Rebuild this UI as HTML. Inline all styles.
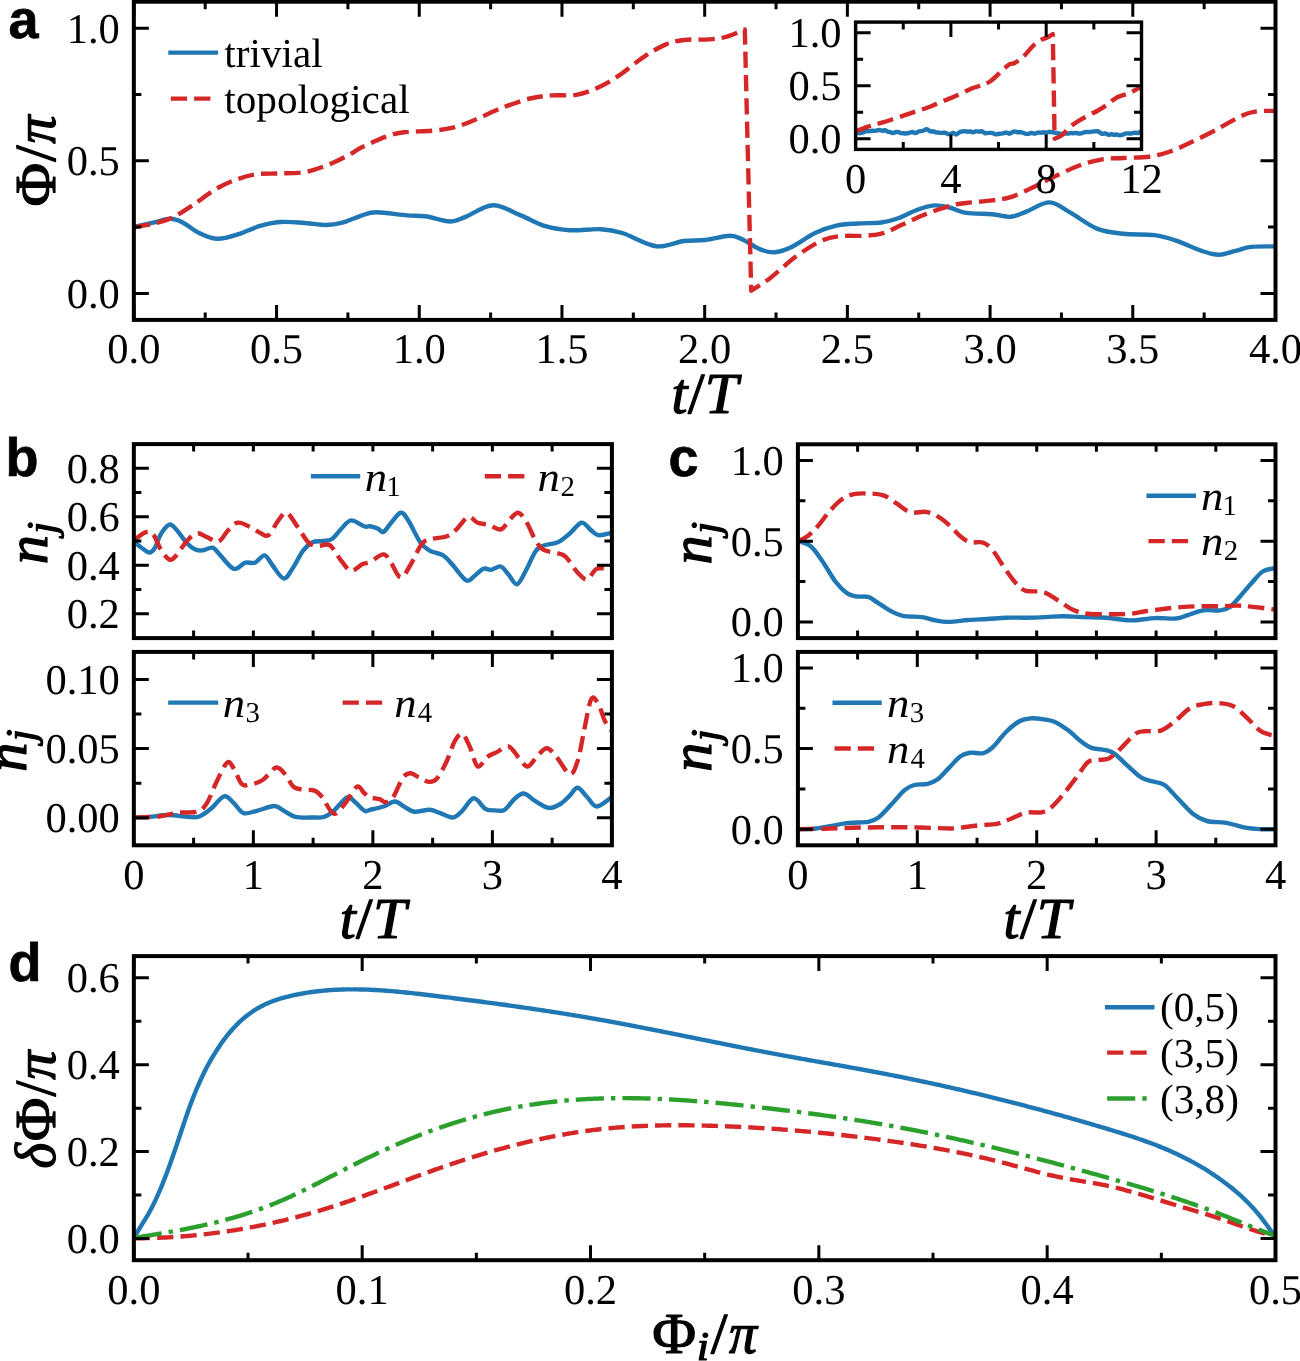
<!DOCTYPE html>
<html><head><meta charset="utf-8"><title>Figure</title>
<style>html,body{margin:0;padding:0;background:#fff;}body{width:1300px;height:1361px;overflow:hidden;font-family:"Liberation Serif",serif;}svg{display:block;will-change:transform;}</style>
</head><body>
<svg width="1300" height="1361" viewBox="0 0 1300 1361" font-family="Liberation Serif, serif" text-rendering="geometricPrecision"><defs><clipPath id="c1"><rect x="133.85" y="1.7" width="1141.65" height="318.2"/></clipPath><clipPath id="c2"><rect x="855.6" y="22.1" width="285.9" height="127.3"/></clipPath><clipPath id="c3"><rect x="133.85" y="444.1" width="478.05" height="194"/></clipPath><clipPath id="c4"><rect x="133.85" y="651.9" width="478.05" height="193.4"/></clipPath><clipPath id="c5"><rect x="797.9" y="444.3" width="477.6" height="193.8"/></clipPath><clipPath id="c6"><rect x="797.9" y="651.9" width="477.6" height="193.4"/></clipPath><clipPath id="c7"><rect x="133.85" y="956.1" width="1141.65" height="304.1"/></clipPath></defs><rect width="1300" height="1361" fill="#fff"/><path d="M133.85,226.8 C137.04,226.12 146.91,224.03 153,222.7 C159.09,221.37 165.4,218.8 170.4,218.8 C175.4,218.8 178.2,220.33 183,222.7 C187.8,225.07 193.42,230.32 199.2,233 C204.98,235.68 211.15,238.6 217.7,238.8 C224.25,239 231.58,236.3 238.5,234.2 C245.42,232.1 252.28,228.23 259.2,226.2 C266.12,224.17 272.7,222.58 280,222 C287.3,221.42 295.3,222.2 303,222.7 C310.7,223.2 319.65,225 326.2,225 C332.75,225 336.53,224.23 342.3,222.7 C348.07,221.17 355.15,217.53 360.8,215.8 C366.45,214.07 368.52,212.37 376.2,212.3 C383.88,212.23 398.7,214.73 406.9,215.4 C415.1,216.07 418.22,215.28 425.4,216.3 C432.58,217.32 443.33,221.4 450,221.5 C456.67,221.6 458.23,219.62 465.4,216.9 C472.57,214.18 483.77,205.45 493,205.2 C502.23,204.95 512.07,211.9 520.8,215.4 C529.53,218.9 537.2,223.73 545.4,226.2 C553.6,228.67 560.77,229.7 570,230.2 C579.23,230.7 592.08,228.73 600.8,229.2 C609.52,229.67 613.07,230.17 622.3,233 C631.53,235.83 645.95,244.87 656.2,246.2 C666.45,247.53 675.6,242.03 683.8,241 C692,239.97 697.73,240.88 705.4,240 C713.07,239.12 723.6,235.78 729.8,235.7 C736,235.62 737.62,237.27 742.6,239.5 C747.58,241.73 754.37,246.97 759.7,249.1 C765.03,251.23 769.28,252.65 774.6,252.3 C779.92,251.95 784.85,250.2 791.6,247 C798.35,243.8 807.63,236.65 815.1,233.1 C822.57,229.55 829.3,227.3 836.4,225.7 C843.5,224.1 850.23,224.03 857.7,223.5 C865.17,222.97 874.45,223.38 881.2,222.5 C887.95,221.62 892.17,220.33 898.2,218.2 C904.23,216.07 911.37,211.83 917.4,209.7 C923.43,207.57 929.07,205.77 934.4,205.4 C939.73,205.03 944.1,206.25 949.4,207.5 C954.7,208.75 959.05,211.78 966.2,212.9 C973.35,214.02 984.9,213.55 992.3,214.2 C999.7,214.85 1004.93,217.23 1010.6,216.8 C1016.27,216.37 1019.77,214 1026.3,211.6 C1032.83,209.2 1042.38,202.18 1049.8,202.4 C1057.22,202.62 1062.95,208.53 1070.8,212.9 C1078.65,217.27 1088.2,225.12 1096.9,228.6 C1105.6,232.08 1113.42,232.72 1123,233.8 C1132.58,234.88 1145.67,234 1154.4,235.1 C1163.13,236.2 1167.55,237.78 1175.4,240.4 C1183.25,243.02 1194.32,248.42 1201.5,250.8 C1208.68,253.18 1212.83,254.7 1218.5,254.7 C1224.17,254.7 1230.05,252.1 1235.5,250.8 C1240.95,249.5 1244.53,247.63 1251.2,246.9 C1257.87,246.17 1271.45,246.48 1275.5,246.4" fill="none" stroke="#1f77b4" stroke-width="4.4" stroke-linejoin="round" stroke-linecap="butt" clip-path="url(#c1)"/>
<path d="M133.85,227.3 C137.04,226.72 146.72,225.35 153,223.8 C159.28,222.25 164.95,221.07 171.5,218 C178.05,214.93 184.6,210.4 192.3,205.4 C200,200.4 210,192.43 217.7,188 C225.4,183.57 231.95,181.1 238.5,178.8 C245.05,176.5 250.47,175.08 257,174.2 C263.53,173.32 270.4,173.77 277.7,173.5 C285,173.23 294.65,173.25 300.8,172.6 C306.95,171.95 309.23,171.25 314.6,169.6 C319.97,167.95 326.85,165.38 333,162.7 C339.15,160.02 346.87,156 351.5,153.5 C356.13,151 355.15,150.47 360.8,147.7 C366.45,144.93 378.23,139.47 385.4,136.9 C392.57,134.33 396.12,133.32 403.8,132.3 C411.48,131.28 423.3,131.57 431.5,130.8 C439.7,130.03 445.82,129.5 453,127.7 C460.18,125.9 466.38,123.33 474.6,120 C482.82,116.67 493.07,111.28 502.3,107.7 C511.53,104.12 521.8,100.55 530,98.5 C538.2,96.45 543.8,96.02 551.5,95.4 C559.2,94.78 568.5,96.08 576.2,94.8 C583.9,93.52 590.53,90.93 597.7,87.7 C604.87,84.47 611.52,80.53 619.2,75.4 C626.88,70.27 636.1,62.03 643.8,56.9 C651.5,51.77 658.73,47.42 665.4,44.6 C672.07,41.78 676.62,40.87 683.8,40 C690.98,39.13 701.53,39.9 708.5,39.4 C715.47,38.9 719.55,38.63 725.6,37 C731.65,35.37 741.6,30.83 744.8,29.6 L751.2,290.7 C754.38,288.57 762.85,283.58 770.3,277.9 C777.75,272.22 787.72,262.63 795.9,256.6 C804.08,250.57 812.3,245.08 819.4,241.7 C826.5,238.32 830.7,237.3 838.5,236.3 C846.3,235.3 858.73,236.23 866.2,235.7 C873.67,235.17 877.25,234.95 883.3,233.1 C889.35,231.25 895.4,227.78 902.5,224.6 C909.6,221.42 917.73,217.2 925.9,214 C934.07,210.8 944.78,207.23 951.5,205.4 C958.22,203.57 959.4,203.83 966.2,203 C973,202.17 984.9,201.37 992.3,200.4 C999.7,199.43 1004.07,199.25 1010.6,197.2 C1017.13,195.15 1024.53,191.37 1031.5,188.1 C1038.47,184.83 1044.55,181.32 1052.4,177.6 C1060.25,173.88 1070.32,168.85 1078.6,165.8 C1086.88,162.75 1094.7,160.6 1102.1,159.3 C1109.5,158 1115.15,158.43 1123,158 C1130.85,157.57 1141.35,157.78 1149.2,156.7 C1157.05,155.62 1163.13,153.9 1170.1,151.5 C1177.07,149.1 1183.15,146.02 1191,142.3 C1198.85,138.58 1208.92,133.55 1217.2,129.2 C1225.48,124.85 1234.17,119.17 1240.7,116.2 C1247.23,113.23 1250.6,112.28 1256.4,111.4 C1262.2,110.52 1272.32,110.98 1275.5,110.9" fill="none" stroke="#d62728" stroke-width="4.4" stroke-linejoin="round" stroke-dasharray="16.28 7.04" stroke-linecap="butt" clip-path="url(#c1)"/>
<path d="M133.85,319.9v-15 M133.85,1.7v15 M276.56,319.9v-15 M276.56,1.7v15 M419.26,319.9v-15 M419.26,1.7v15 M561.97,319.9v-15 M561.97,1.7v15 M704.68,319.9v-15 M704.68,1.7v15 M847.38,319.9v-15 M847.38,1.7v15 M990.09,319.9v-15 M990.09,1.7v15 M1132.79,319.9v-15 M1132.79,1.7v15 M1275.5,319.9v-15 M1275.5,1.7v15 M205.2,319.9v-7.5 M205.2,1.7v7.5 M347.91,319.9v-7.5 M347.91,1.7v7.5 M490.62,319.9v-7.5 M490.62,1.7v7.5 M633.32,319.9v-7.5 M633.32,1.7v7.5 M776.03,319.9v-7.5 M776.03,1.7v7.5 M918.73,319.9v-7.5 M918.73,1.7v7.5 M1061.44,319.9v-7.5 M1061.44,1.7v7.5 M1204.15,319.9v-7.5 M1204.15,1.7v7.5 M133.85,293.38h15 M1275.5,293.38h-15 M133.85,160.8h15 M1275.5,160.8h-15 M133.85,28.22h15 M1275.5,28.22h-15 M133.85,227.09h7.5 M1275.5,227.09h-7.5 M133.85,94.51h7.5 M1275.5,94.51h-7.5" stroke="#000" stroke-width="3" fill="none"/>
<text x="133.85" y="363.4" font-size="42.5" text-anchor="middle">0.0</text>
<text x="276.56" y="363.4" font-size="42.5" text-anchor="middle">0.5</text>
<text x="419.26" y="363.4" font-size="42.5" text-anchor="middle">1.0</text>
<text x="561.97" y="363.4" font-size="42.5" text-anchor="middle">1.5</text>
<text x="704.68" y="363.4" font-size="42.5" text-anchor="middle">2.0</text>
<text x="847.38" y="363.4" font-size="42.5" text-anchor="middle">2.5</text>
<text x="990.09" y="363.4" font-size="42.5" text-anchor="middle">3.0</text>
<text x="1132.79" y="363.4" font-size="42.5" text-anchor="middle">3.5</text>
<text x="1275.5" y="363.4" font-size="42.5" text-anchor="middle">4.0</text>
<text x="119.75" y="307.78" font-size="42.5" text-anchor="end">0.0</text>
<text x="119.75" y="175.2" font-size="42.5" text-anchor="end">0.5</text>
<text x="119.75" y="42.62" font-size="42.5" text-anchor="end">1.0</text>
<text transform="translate(671.45,412.5) scale(0.9914,1)" font-size="58" font-style="italic" stroke="#000" stroke-width="1.2" stroke-linejoin="round">t</text>
<text transform="translate(687.88,412.5) scale(1.0239,1)" font-size="58" stroke="#000" stroke-width="1.2" stroke-linejoin="round">/</text>
<text transform="translate(704.71,412.5) scale(1.0317,1)" font-size="58" font-style="italic" stroke="#000" stroke-width="1.2" stroke-linejoin="round">T</text>
<g transform="translate(54.7,205.3) rotate(-90)"><text transform="translate(-1.21,0) scale(1.0287,1)" font-size="58" stroke="#000" stroke-width="1.2" stroke-linejoin="round">&#934;</text><text transform="translate(43.5,0) scale(1.0239,1)" font-size="58" stroke="#000" stroke-width="1.2" stroke-linejoin="round">/</text><text transform="translate(61.5,0) scale(0.9775,1)" font-size="58" font-style="italic" stroke="#000" stroke-width="1.2" stroke-linejoin="round">&#960;</text></g>
<text x="8.5" y="37.5" font-family="Liberation Sans, sans-serif" font-weight="bold" font-size="54" stroke="#000" stroke-width="0.7">a</text>
<path d="M168.3,52.6 L218.1,52.6" fill="none" stroke="#1f77b4" stroke-width="4.4" stroke-linejoin="round" stroke-linecap="butt"/>
<path d="M170.8,98.6 L211,98.6" fill="none" stroke="#d62728" stroke-width="4.4" stroke-linejoin="round" stroke-dasharray="16.28 7.04" stroke-linecap="butt"/>
<text x="224.3" y="67.3" font-size="41.2" text-anchor="start">trivial</text>
<text x="224.3" y="113.1" font-size="41.2" text-anchor="start">topological</text>
<rect x="855.6" y="22.1" width="285.9" height="127.3" fill="#fff"/>
<path d="M855.6,133.36 L857.2,133.04 L858.8,133.03 L860.4,133.2 L862,132.84 L863.6,132.29 L865.2,131.44 L866.8,130.64 L868.4,131.16 L870,131.27 L871.6,130.67 L873.2,130.7 L874.8,130.89 L876.4,130.64 L878,130.15 L879.6,130 L881.2,130.48 L882.8,130.71 L884.4,130.22 L886,130.5 L887.6,131.58 L889.2,131.9 L890.8,132.27 L892.4,133.17 L894,132.82 L895.6,132.08 L897.2,131.93 L898.8,132.18 L900.4,133.05 L902,133.18 L903.6,133.23 L905.2,133.48 L906.8,133.27 L908.4,133.18 L910,132.52 L911.6,132.01 L913.2,132.25 L914.8,132.97 L916.4,132.8 L918,131.76 L919.6,131.24 L921.2,131.13 L922.8,130.86 L924.4,130.14 L926,129.3 L927.6,129.46 L929.2,130.76 L930.8,131.56 L932.4,131.31 L934,131.45 L935.6,132.4 L937.2,132.56 L938.8,132.56 L940.4,132.86 L942,132.9 L943.6,132.7 L945.2,132.8 L946.8,133.5 L948.4,134.14 L950,134.23 L951.6,133.47 L953.2,132.84 L954.8,133.71 L956.4,134.41 L958,133.36 L959.6,132.19 L961.2,131.58 L962.8,131.34 L964.4,131.11 L966,131.21 L967.6,131.75 L969.2,131.57 L970.8,131.57 L972.4,132.21 L974,132.08 L975.6,131.37 L977.2,131.33 L978.8,131.74 L980.4,131.37 L982,131.32 L983.6,132.42 L985.2,133.29 L986.8,133.14 L988.4,132.91 L990,132.86 L991.6,132.9 L993.2,133.29 L994.8,134.11 L996.4,134.37 L998,134 L999.6,133.77 L1001.2,133.63 L1002.8,133.28 L1004.4,132.79 L1006,132.48 L1007.6,132.97 L1009.2,133.67 L1010.8,133.12 L1012.4,132.07 L1014,131.48 L1015.6,131.59 L1017.2,132.24 L1018.8,132.28 L1020.4,132.06 L1022,132.45 L1023.6,133.03 L1025.2,133.57 L1026.8,133.97 L1028.4,133.87 L1030,133.24 L1031.6,132.92 L1033.2,133.35 L1034.8,133.68 L1036.4,133.18 L1038,132.54 L1039.6,132.68 L1041.2,132.69 L1042.8,132.27 L1044.4,132.48 L1046,132.9 L1047.6,132.24 L1049.2,131.76 L1050.8,132.08 L1052.4,132.22 L1054,132.46 L1055.6,132.98 L1057.2,133.26 L1058.8,133.52 L1060.4,133.85 L1062,133.73 L1063.6,133.47 L1065.2,133.41 L1066.8,133.6 L1068.4,133.65 L1070,133.1 L1071.6,132.94 L1073.2,133.35 L1074.8,133.05 L1076.4,132.98 L1078,133.43 L1079.6,133.53 L1081.2,133.39 L1082.8,132.86 L1084.4,132.13 L1086,131.9 L1087.6,132.04 L1089.2,132.03 L1090.8,131.86 L1092.4,131.6 L1094,131.41 L1095.6,131.32 L1097.2,131.12 L1098.8,131.68 L1100.4,132.88 L1102,133.75 L1103.6,133.74 L1105.2,133.28 L1106.8,134.04 L1108.4,134.86 L1110,134.55 L1111.6,134.08 L1113.2,134.71 L1114.8,135.03 L1116.4,134.42 L1118,134.83 L1119.6,135.28 L1121.2,135.03 L1122.8,134.66 L1124.4,133.97 L1126,133.42 L1127.6,133.41 L1129.2,133.5 L1130.8,133.55 L1132.4,133.31 L1134,132.71 L1135.6,132.74 L1137.2,133.16 L1138.8,132.64 L1140.4,131.84 L1141.5,132.2" fill="none" stroke="#1f77b4" stroke-width="4.4" stroke-linejoin="round" stroke-linecap="butt" clip-path="url(#c2)"/>
<path d="M855.6,131.5 C857.55,130.73 863.43,128.23 867.3,126.9 C871.17,125.57 874.95,124.65 878.8,123.5 C882.65,122.35 886.17,121.35 890.4,120 C894.63,118.65 900.17,116.75 904.2,115.4 C908.23,114.05 910.55,113.25 914.6,111.9 C918.65,110.55 925.03,108.55 928.5,107.3 C931.97,106.05 931.75,105.93 935.4,104.4 C939.05,102.87 946.93,99.53 950.4,98.1 C953.87,96.67 952.55,97.43 956.2,95.8 C959.85,94.17 968.47,89.93 972.3,88.3 C976.13,86.67 976.25,87.13 979.2,86 C982.15,84.87 986.15,84.1 990,81.5 C993.85,78.9 999.02,73.28 1002.3,70.4 C1005.58,67.52 1007.65,65.43 1009.7,64.2 C1011.75,62.97 1012.35,64.23 1014.6,63 C1016.85,61.77 1020.12,59.67 1023.2,56.8 C1026.28,53.93 1030.02,48.67 1033.1,45.8 C1036.18,42.93 1039.45,40.93 1041.7,39.6 C1043.95,38.27 1044.75,38.72 1046.6,37.8 C1048.45,36.88 1051.77,34.72 1052.8,34.1 L1054.6,138.7 C1055.73,138.18 1058.83,137.55 1061.4,135.6 C1063.97,133.65 1067.13,129.47 1070,127 C1072.87,124.53 1075.12,122.95 1078.6,120.8 C1082.08,118.65 1087.82,115.73 1090.9,114.1 C1093.98,112.47 1094.43,112.55 1097.1,111 C1099.77,109.45 1103.62,107.05 1106.9,104.8 C1110.18,102.55 1113.1,99.43 1116.8,97.5 C1120.5,95.57 1124.98,95.03 1129.1,93.2 C1133.22,91.37 1139.43,87.62 1141.5,86.5" fill="none" stroke="#d62728" stroke-width="4.4" stroke-linejoin="round" stroke-dasharray="16.28 7.04" stroke-linecap="butt" clip-path="url(#c2)"/>
<path d="M855.6,149.4v-15 M855.6,22.1v15 M950.9,149.4v-15 M950.9,22.1v15 M1046.2,149.4v-15 M1046.2,22.1v15 M1141.5,149.4v-15 M1141.5,22.1v15 M903.25,149.4v-7.5 M903.25,22.1v7.5 M998.55,149.4v-7.5 M998.55,22.1v7.5 M1093.85,149.4v-7.5 M1093.85,22.1v7.5 M855.6,138.79h15 M1141.5,138.79h-15 M855.6,85.75h15 M1141.5,85.75h-15 M855.6,32.71h15 M1141.5,32.71h-15 M855.6,112.27h7.5 M1141.5,112.27h-7.5 M855.6,59.23h7.5 M1141.5,59.23h-7.5" stroke="#000" stroke-width="3" fill="none"/>
<rect x="855.6" y="22.1" width="285.9" height="127.3" fill="none" stroke="#000" stroke-width="3.4" stroke-linejoin="miter"/>
<text x="855.6" y="192.9" font-size="42.5" text-anchor="middle">0</text>
<text x="950.9" y="192.9" font-size="42.5" text-anchor="middle">4</text>
<text x="1046.2" y="192.9" font-size="42.5" text-anchor="middle">8</text>
<text x="1141.5" y="192.9" font-size="42.5" text-anchor="middle">12</text>
<text x="841.5" y="153.19" font-size="42.5" text-anchor="end">0.0</text>
<text x="841.5" y="100.15" font-size="42.5" text-anchor="end">0.5</text>
<text x="841.5" y="47.11" font-size="42.5" text-anchor="end">1.0</text>
<rect x="133.85" y="1.7" width="1141.65" height="318.2" fill="none" stroke="#000" stroke-width="4" stroke-linejoin="miter"/>
<path d="M133.85,541.5 C135.12,542.53 138.94,545.87 141.5,547.7 C144.06,549.53 146.95,552.5 149.2,552.5 C151.45,552.5 153.07,550.75 155,547.7 C156.93,544.65 158.4,538.05 160.8,534.2 C163.2,530.35 166.68,525.23 169.4,524.6 C172.12,523.97 174.37,527.52 177.1,530.4 C179.83,533.28 182.75,538.7 185.8,541.9 C188.85,545.1 192.52,548.22 195.4,549.6 C198.28,550.98 200.22,550.52 203.1,550.2 C205.98,549.88 209.82,546.83 212.7,547.7 C215.58,548.57 216.88,551.88 220.4,555.4 C223.92,558.92 229.63,567.58 233.8,568.8 C237.97,570.02 241.87,563.72 245.4,562.7 C248.93,561.68 251.8,563.92 255,562.7 C258.2,561.48 261.72,555.02 264.6,555.4 C267.48,555.78 269.1,561.15 272.3,565 C275.5,568.85 280.27,578.18 283.8,578.5 C287.33,578.82 290.28,571.55 293.5,566.9 C296.72,562.25 299.9,554.7 303.1,550.6 C306.3,546.5 309.5,543.9 312.7,542.3 C315.9,540.7 319.1,541.55 322.3,541 C325.5,540.45 328.7,541.08 331.9,539 C335.1,536.92 338.28,531.6 341.5,528.5 C344.72,525.4 347.35,520.73 351.2,520.4 C355.05,520.07 361.47,525.53 364.6,526.5 C367.73,527.47 367.82,525.87 370,526.2 C372.18,526.53 375.45,527.55 377.7,528.5 C379.95,529.45 381.25,532.87 383.5,531.9 C385.75,530.93 388.32,525.9 391.2,522.7 C394.08,519.5 397.92,513.02 400.8,512.7 C403.68,512.38 405.3,515.93 408.5,520.8 C411.7,525.67 416.48,536.93 420,541.9 C423.52,546.87 425.75,548.35 429.6,550.6 C433.45,552.85 439.25,553 443.1,555.4 C446.95,557.8 448.85,560.83 452.7,565 C456.55,569.17 462.68,578.48 466.2,580.4 C469.72,582.32 470.92,578.43 473.8,576.5 C476.68,574.57 480.6,569.92 483.5,568.8 C486.4,567.68 488.32,570.18 491.2,569.8 C494.08,569.42 497.92,565.7 500.8,566.5 C503.68,567.3 505.78,571.65 508.5,574.6 C511.22,577.55 514.22,584.83 517.1,584.2 C519.98,583.57 522.75,576.25 525.8,570.8 C528.85,565.35 532.52,555.67 535.4,551.5 C538.28,547.33 539.25,547.4 543.1,545.8 C546.95,544.2 554.02,543.98 558.5,541.9 C562.98,539.82 566.17,536.5 570,533.3 C573.83,530.1 577.97,523.18 581.5,522.7 C585.03,522.22 588.32,528.32 591.2,530.4 C594.08,532.48 595.35,534.8 598.8,535.2 C602.25,535.6 609.72,533.2 611.9,532.8" fill="none" stroke="#1f77b4" stroke-width="4.4" stroke-linejoin="round" stroke-linecap="butt" clip-path="url(#c3)"/>
<path d="M133.85,540.4 C135.78,539.05 142.19,533.33 145.4,532.3 C148.61,531.27 150.53,531.32 153.1,534.2 C155.67,537.08 158.08,545.37 160.8,549.6 C163.52,553.83 166.83,558.63 169.4,559.6 C171.97,560.57 173.15,558.67 176.2,555.4 C179.25,552.13 184.18,543.68 187.7,540 C191.22,536.32 194.1,533.78 197.3,533.3 C200.5,532.82 203.37,535.73 206.9,537.1 C210.43,538.47 214.97,542.62 218.5,541.5 C222.03,540.38 224.9,533.53 228.1,530.4 C231.3,527.27 234.18,523.35 237.7,522.7 C241.22,522.05 245.35,524.73 249.2,526.5 C253.05,528.27 257.58,531.85 260.8,533.3 C264.02,534.75 265.62,537.28 268.5,535.2 C271.38,533.12 275.07,524.55 278.1,520.8 C281.13,517.05 283.5,511.75 286.7,512.7 C289.9,513.65 293.62,521.47 297.3,526.5 C300.98,531.53 305.27,539.68 308.8,542.9 C312.33,546.12 314.97,545.38 318.5,545.8 C322.03,546.22 326.17,542.83 330,545.4 C333.83,547.97 337.97,556.97 341.5,561.2 C345.03,565.43 347.67,570.33 351.2,570.8 C354.73,571.27 359.57,565.45 362.7,564 C365.83,562.55 366.53,563.7 370,562.1 C373.47,560.5 379.97,554.23 383.5,554.4 C387.03,554.57 388.32,559.25 391.2,563.1 C394.08,566.95 397.6,577.18 400.8,577.5 C404,577.82 406.88,570.62 410.4,565 C413.92,559.38 418.38,548.13 421.9,543.8 C425.42,539.47 427.33,540.27 431.5,539 C435.67,537.73 442.73,537.8 446.9,536.2 C451.07,534.6 452.97,532.62 456.5,529.4 C460.03,526.18 464.57,518.02 468.1,516.9 C471.63,515.78 474.18,521.35 477.7,522.7 C481.22,524.05 485.35,523.88 489.2,525 C493.05,526.12 497.27,530.43 500.8,529.4 C504.33,528.37 507.52,521.58 510.4,518.8 C513.28,516.02 515.53,512.37 518.1,512.7 C520.67,513.03 522.92,516.25 525.8,520.8 C528.68,525.35 532.52,535.2 535.4,540 C538.28,544.8 539.25,547.35 543.1,549.6 C546.95,551.85 554.65,552.22 558.5,553.5 C562.35,554.78 563,554.1 566.2,557.3 C569.4,560.5 574.18,569.02 577.7,572.7 C581.22,576.38 584.1,580.05 587.3,579.4 C590.5,578.75 592.8,570.45 596.9,568.8 C601,567.15 609.4,569.38 611.9,569.5" fill="none" stroke="#d62728" stroke-width="4.4" stroke-linejoin="round" stroke-dasharray="16.28 7.04" stroke-linecap="butt" clip-path="url(#c3)"/>
<path d="M193.61,638.1v-7.5 M193.61,444.1v7.5 M253.36,638.1v-7.5 M253.36,444.1v7.5 M313.12,638.1v-7.5 M313.12,444.1v7.5 M372.88,638.1v-7.5 M372.88,444.1v7.5 M432.63,638.1v-7.5 M432.63,444.1v7.5 M492.39,638.1v-7.5 M492.39,444.1v7.5 M552.14,638.1v-7.5 M552.14,444.1v7.5 M133.85,613.85h15 M611.9,613.85h-15 M133.85,565.35h15 M611.9,565.35h-15 M133.85,516.85h15 M611.9,516.85h-15 M133.85,468.35h15 M611.9,468.35h-15 M133.85,589.6h7.5 M611.9,589.6h-7.5 M133.85,541.1h7.5 M611.9,541.1h-7.5 M133.85,492.6h7.5 M611.9,492.6h-7.5" stroke="#000" stroke-width="3" fill="none"/>
<rect x="133.85" y="444.1" width="478.05" height="194" fill="none" stroke="#000" stroke-width="4" stroke-linejoin="miter"/>
<path d="M133.85,817.5 C136.41,817.4 143.42,817.32 149.2,816.9 C154.97,816.48 162.08,815 168.5,815 C174.92,815 182.58,816.65 187.7,816.9 C192.82,817.15 195.35,817.85 199.2,816.5 C203.05,815.15 206.63,812.17 210.8,808.8 C214.97,805.43 220.37,797.25 224.2,796.3 C228.03,795.35 230.58,800.3 233.8,803.1 C237.02,805.9 239.65,811.82 243.5,813.1 C247.35,814.38 251.78,811.98 256.9,810.8 C262.02,809.62 269.72,806 274.2,806 C278.68,806 280.27,808.98 283.8,810.8 C287.33,812.62 290.58,815.78 295.4,816.9 C300.22,818.02 307.9,817.5 312.7,817.5 C317.5,817.5 320.68,818.02 324.2,816.9 C327.72,815.78 329.95,814.07 333.8,810.8 C337.65,807.53 343.77,798.75 347.3,797.3 C350.83,795.85 352.12,799.85 355,802.1 C357.88,804.35 362.1,809.52 364.6,810.8 C367.1,812.08 366.85,810.52 370,809.8 C373.15,809.08 379.33,807.88 383.5,806.5 C387.67,805.12 391.48,801.43 395,801.5 C398.52,801.57 401.4,805.2 404.6,806.9 C407.8,808.6 410.03,811.22 414.2,811.7 C418.37,812.18 425.43,809.63 429.6,809.8 C433.77,809.97 435.35,811.42 439.2,812.7 C443.05,813.98 448.85,817.82 452.7,817.5 C456.55,817.18 458.78,814 462.3,810.8 C465.82,807.6 469.95,798.63 473.8,798.3 C477.65,797.97 481.87,806.78 485.4,808.8 C488.93,810.82 491.8,810.23 495,810.4 C498.2,810.57 501.4,811.67 504.6,809.8 C507.8,807.93 511,801.92 514.2,799.2 C517.4,796.48 520.27,793.17 523.8,793.5 C527.33,793.83 531.23,798.8 535.4,801.2 C539.57,803.6 544.63,807.43 548.8,807.9 C552.97,808.37 556.87,806.08 560.4,804 C563.93,801.92 567.12,798.12 570,795.4 C572.88,792.68 574.82,787.38 577.7,787.7 C580.58,788.02 584.1,794.17 587.3,797.3 C590.5,800.43 592.8,806.55 596.9,806.5 C601,806.45 609.4,798.58 611.9,797" fill="none" stroke="#1f77b4" stroke-width="4.4" stroke-linejoin="round" stroke-linecap="butt" clip-path="url(#c4)"/>
<path d="M133.85,817.5 C138.01,817.33 151.43,817.3 158.8,816.5 C166.18,815.7 171.68,813.5 178.1,812.7 C184.52,811.9 192.5,813.3 197.3,811.7 C202.1,810.1 203.7,808.07 206.9,803.1 C210.1,798.13 213.13,788.63 216.5,781.9 C219.87,775.17 224.22,764.93 227.1,762.7 C229.98,760.47 231.4,764.98 233.8,768.5 C236.2,772.02 238.93,781.08 241.5,783.8 C244.07,786.52 245.67,785.43 249.2,784.8 C252.73,784.17 258.2,782.88 262.7,780 C267.2,777.12 272.35,768.3 276.2,767.5 C280.05,766.7 282.92,772 285.8,775.2 C288.68,778.4 290.62,784.3 293.5,786.7 C296.38,789.1 299.58,788.95 303.1,789.6 C306.62,790.25 311.4,789.32 314.6,790.6 C317.8,791.88 319.1,793.45 322.3,797.3 C325.5,801.15 329.95,812.73 333.8,813.7 C337.65,814.67 341.55,807.6 345.4,803.1 C349.25,798.6 353.7,788.3 356.9,786.7 C360.1,785.1 362.42,791.73 364.6,793.5 C366.78,795.27 367.5,796.35 370,797.3 C372.5,798.25 377.03,798.4 379.6,799.2 C382.17,800 383.15,802.42 385.4,802.1 C387.65,801.78 390.22,801.3 393.1,797.3 C395.98,793.3 399.82,782.1 402.7,778.1 C405.58,774.1 407.52,773.3 410.4,773.3 C413.28,773.3 416.8,776.67 420,778.1 C423.2,779.53 426.72,781.9 429.6,781.9 C432.48,781.9 434.42,781.62 437.3,778.1 C440.18,774.58 444.02,766.9 446.9,760.8 C449.78,754.7 452.03,746 454.6,741.5 C457.17,737 459.73,732.83 462.3,733.8 C464.87,734.77 467.43,741.85 470,747.3 C472.57,752.75 474.82,764.9 477.7,766.5 C480.58,768.1 484.1,759.3 487.3,756.9 C490.5,754.5 493.37,753.87 496.9,752.1 C500.43,750.33 504.97,745.5 508.5,746.3 C512.03,747.1 514.9,753.53 518.1,756.9 C521.3,760.27 524.5,766.65 527.7,766.5 C530.9,766.35 534.1,759.03 537.3,756 C540.5,752.97 543.7,748.15 546.9,748.3 C550.1,748.45 552.65,752.58 556.5,756.9 C560.35,761.22 566.47,773.55 570,774.2 C573.53,774.85 575.45,767.53 577.7,760.8 C579.95,754.07 581.25,744.07 583.5,733.8 C585.75,723.53 588.65,704 591.2,699.2 C593.75,694.4 596.57,701.47 598.8,705 C601.03,708.53 602.42,716.07 604.6,720.4 C606.78,724.73 610.68,729.23 611.9,731" fill="none" stroke="#d62728" stroke-width="4.4" stroke-linejoin="round" stroke-dasharray="16.28 7.04" stroke-linecap="butt" clip-path="url(#c4)"/>
<path d="M253.36,845.3v-15 M253.36,651.9v15 M372.88,845.3v-15 M372.88,651.9v15 M492.39,845.3v-15 M492.39,651.9v15 M193.61,845.3v-7.5 M193.61,651.9v7.5 M313.12,845.3v-7.5 M313.12,651.9v7.5 M432.63,845.3v-7.5 M432.63,651.9v7.5 M552.14,845.3v-7.5 M552.14,651.9v7.5 M133.85,817.67h15 M611.9,817.67h-15 M133.85,748.6h15 M611.9,748.6h-15 M133.85,679.53h15 M611.9,679.53h-15 M133.85,783.14h7.5 M611.9,783.14h-7.5 M133.85,714.06h7.5 M611.9,714.06h-7.5" stroke="#000" stroke-width="3" fill="none"/>
<rect x="133.85" y="651.9" width="478.05" height="193.4" fill="none" stroke="#000" stroke-width="4" stroke-linejoin="miter"/>
<text x="119.75" y="628.25" font-size="42.5" text-anchor="end">0.2</text>
<text x="119.75" y="579.75" font-size="42.5" text-anchor="end">0.4</text>
<text x="119.75" y="531.25" font-size="42.5" text-anchor="end">0.6</text>
<text x="119.75" y="482.75" font-size="42.5" text-anchor="end">0.8</text>
<text x="119.75" y="832.07" font-size="42.5" text-anchor="end">0.00</text>
<text x="119.75" y="763" font-size="42.5" text-anchor="end">0.05</text>
<text x="119.75" y="693.93" font-size="42.5" text-anchor="end">0.10</text>
<text x="133.85" y="888.8" font-size="42.5" text-anchor="middle">0</text>
<text x="253.36" y="888.8" font-size="42.5" text-anchor="middle">1</text>
<text x="372.88" y="888.8" font-size="42.5" text-anchor="middle">2</text>
<text x="492.39" y="888.8" font-size="42.5" text-anchor="middle">3</text>
<text x="611.9" y="888.8" font-size="42.5" text-anchor="middle">4</text>
<text transform="translate(339.65,937.9) scale(0.9914,1)" font-size="58" font-style="italic" stroke="#000" stroke-width="1.2" stroke-linejoin="round">t</text>
<text transform="translate(356.08,937.9) scale(1.0239,1)" font-size="58" stroke="#000" stroke-width="1.2" stroke-linejoin="round">/</text>
<text transform="translate(372.91,937.9) scale(1.0317,1)" font-size="58" font-style="italic" stroke="#000" stroke-width="1.2" stroke-linejoin="round">T</text>
<text x="5.5" y="475.5" font-family="Liberation Sans, sans-serif" font-weight="bold" font-size="54" stroke="#000" stroke-width="0.7">b</text>
<g transform="translate(46.8,562.8) rotate(-90)"><text transform="translate(-1.48,0) scale(1.0071,1)" font-size="58" font-style="italic" stroke="#000" stroke-width="1.2" stroke-linejoin="round">n</text><text transform="translate(29.17,7.7) scale(1.0526,1)" font-size="40.6" font-style="italic" stroke="#000" stroke-width="1.2" stroke-linejoin="round">j</text></g>
<g transform="translate(26.1,770.3) rotate(-90)"><text transform="translate(-1.48,0) scale(1.0071,1)" font-size="58" font-style="italic" stroke="#000" stroke-width="1.2" stroke-linejoin="round">n</text><text transform="translate(29.17,7.7) scale(1.0526,1)" font-size="40.6" font-style="italic" stroke="#000" stroke-width="1.2" stroke-linejoin="round">j</text></g>
<path d="M310.9,476.2 L360.2,476.2" fill="none" stroke="#1f77b4" stroke-width="4.4" stroke-linejoin="round" stroke-linecap="butt"/>
<text transform="translate(364.71,490.6) scale(1.0849,1)" font-size="41.2" font-style="italic">n</text>
<text x="386.37" y="495.8" font-size="28.8" text-anchor="start">1</text>
<path d="M484.8,476.2 L524.8,476.2" fill="none" stroke="#d62728" stroke-width="4.4" stroke-linejoin="round" stroke-dasharray="16.28 7.04" stroke-linecap="butt"/>
<text transform="translate(537.51,490.6) scale(1.0849,1)" font-size="41.2" font-style="italic">n</text>
<text x="560.43" y="495.8" font-size="28.8" text-anchor="start">2</text>
<path d="M168.2,702.6 L218.2,702.6" fill="none" stroke="#1f77b4" stroke-width="4.4" stroke-linejoin="round" stroke-linecap="butt"/>
<text transform="translate(222.81,717) scale(1.0849,1)" font-size="41.2" font-style="italic">n</text>
<text x="245.62" y="722.2" font-size="28.8" text-anchor="start">3</text>
<path d="M342.6,702.6 L382.6,702.6" fill="none" stroke="#d62728" stroke-width="4.4" stroke-linejoin="round" stroke-dasharray="16.28 7.04" stroke-linecap="butt"/>
<text transform="translate(394.21,717) scale(1.0849,1)" font-size="41.2" font-style="italic">n</text>
<text x="417.84" y="722.2" font-size="28.8" text-anchor="start">4</text>
<path d="M797.9,541.2 C799.98,542 806.4,542.8 810.4,546 C814.4,549.2 817.73,554.48 821.9,560.4 C826.07,566.32 831.23,576.05 835.4,581.5 C839.57,586.95 843.38,590.6 846.9,593.1 C850.42,595.6 852.97,595.87 856.5,596.5 C860.03,597.13 864.57,595.87 868.1,596.9 C871.63,597.93 873.85,600.3 877.7,602.7 C881.55,605.1 887.03,609.12 891.2,611.3 C895.37,613.48 897.58,614.83 902.7,615.8 C907.82,616.77 916.77,616.4 921.9,617.1 C927.03,617.8 929.02,619.2 933.5,620 C937.98,620.8 943.03,621.9 948.8,621.9 C954.57,621.9 961.68,620.48 968.1,620 C974.52,619.52 980.9,619.38 987.3,619 C993.7,618.62 1000.08,617.92 1006.5,617.7 C1012.92,617.48 1019.32,617.8 1025.8,617.7 C1032.28,617.6 1039.25,617.35 1045.4,617.1 C1051.55,616.85 1056.62,616.2 1062.7,616.2 C1068.78,616.2 1074.53,616.85 1081.9,617.1 C1089.27,617.35 1098.88,617.15 1106.9,617.7 C1114.92,618.25 1121.98,620.33 1130,620.4 C1138.02,620.47 1147.3,618.42 1155,618.1 C1162.7,617.78 1170.75,618.98 1176.2,618.5 C1181.65,618.02 1183.22,616.55 1187.7,615.2 C1192.18,613.85 1197.65,611.2 1203.1,610.4 C1208.55,609.6 1215.92,610.98 1220.4,610.4 C1224.88,609.82 1226.8,609.15 1230,606.9 C1233.2,604.65 1236.07,600.8 1239.6,596.9 C1243.13,593 1247.35,587.73 1251.2,583.5 C1255.05,579.27 1258.65,574.07 1262.7,571.5 C1266.75,568.93 1273.37,568.67 1275.5,568.1" fill="none" stroke="#1f77b4" stroke-width="4.4" stroke-linejoin="round" stroke-linecap="butt" clip-path="url(#c5)"/>
<path d="M797.9,541.2 C799.67,540.23 805.13,537.97 808.5,535.4 C811.87,532.83 814.58,529.82 818.1,525.8 C821.62,521.78 825.75,515.63 829.6,511.3 C833.45,506.97 837.35,502.62 841.2,499.8 C845.05,496.98 848.22,495.45 852.7,494.4 C857.18,493.35 862.97,493.33 868.1,493.5 C873.23,493.67 878.7,493.7 883.5,495.4 C888.3,497.1 892.42,500.88 896.9,503.7 C901.38,506.52 905.58,510.93 910.4,512.3 C915.22,513.67 921.32,511.25 925.8,511.9 C930.28,512.55 933.47,514.05 937.3,516.2 C941.13,518.35 944.95,521.45 948.8,524.8 C952.65,528.15 956.87,533.42 960.4,536.3 C963.93,539.18 966.15,541.03 970,542.1 C973.85,543.17 979.65,541.25 983.5,542.7 C987.35,544.15 989.58,546.57 993.1,550.8 C996.62,555.03 1000.75,562.65 1004.6,568.1 C1008.45,573.55 1012.67,579.72 1016.2,583.5 C1019.73,587.28 1021.25,589.37 1025.8,590.8 C1030.35,592.23 1038,590.43 1043.5,592.1 C1049,593.77 1054,597.92 1058.8,600.8 C1063.6,603.68 1067.48,607.23 1072.3,609.4 C1077.12,611.57 1081.28,613 1087.7,613.8 C1094.12,614.6 1103.75,614.2 1110.8,614.2 C1117.85,614.2 1124.23,614.28 1130,613.8 C1135.77,613.32 1139.63,612.13 1145.4,611.3 C1151.17,610.47 1158.2,609.53 1164.6,608.8 C1171,608.07 1177.38,607.33 1183.8,606.9 C1190.22,606.47 1196.68,606.32 1203.1,606.2 C1209.52,606.08 1216.53,606.3 1222.3,606.2 C1228.07,606.1 1232.57,605.48 1237.7,605.6 C1242.83,605.72 1246.8,606.23 1253.1,606.9 C1259.4,607.57 1271.77,609.15 1275.5,609.6" fill="none" stroke="#d62728" stroke-width="4.4" stroke-linejoin="round" stroke-dasharray="16.28 7.04" stroke-linecap="butt" clip-path="url(#c5)"/>
<path d="M857.6,638.1v-7.5 M857.6,444.3v7.5 M917.3,638.1v-7.5 M917.3,444.3v7.5 M977,638.1v-7.5 M977,444.3v7.5 M1036.7,638.1v-7.5 M1036.7,444.3v7.5 M1096.4,638.1v-7.5 M1096.4,444.3v7.5 M1156.1,638.1v-7.5 M1156.1,444.3v7.5 M1215.8,638.1v-7.5 M1215.8,444.3v7.5 M797.9,621.95h15 M1275.5,621.95h-15 M797.9,541.2h15 M1275.5,541.2h-15 M797.9,460.45h15 M1275.5,460.45h-15 M797.9,581.58h7.5 M1275.5,581.58h-7.5 M797.9,500.83h7.5 M1275.5,500.83h-7.5" stroke="#000" stroke-width="3" fill="none"/>
<rect x="797.9" y="444.3" width="477.6" height="193.8" fill="none" stroke="#000" stroke-width="4" stroke-linejoin="miter"/>
<path d="M797.9,829.2 C800.62,829.12 808.92,829.2 814.2,828.7 C819.48,828.2 823.83,827.17 829.6,826.2 C835.37,825.23 842.38,823.62 848.8,822.9 C855.22,822.18 863.28,822.7 868.1,821.9 C872.92,821.1 873.85,820.98 877.7,818.1 C881.55,815.22 886.72,809.25 891.2,804.6 C895.68,799.95 900.77,793.47 904.6,790.2 C908.43,786.93 910.35,786.07 914.2,785 C918.05,783.93 923.85,784.7 927.7,783.8 C931.55,782.9 933.78,782.22 937.3,779.6 C940.82,776.98 944.95,772 948.8,768.1 C952.65,764.2 956.87,758.77 960.4,756.2 C963.93,753.63 966.15,753.22 970,752.7 C973.85,752.18 979.65,754.07 983.5,753.1 C987.35,752.13 989.27,750.5 993.1,746.9 C996.93,743.3 1002.02,735.82 1006.5,731.5 C1010.98,727.18 1015.83,723.2 1020,721 C1024.17,718.8 1027.92,718.63 1031.5,718.3 C1035.08,717.97 1037.58,718.4 1041.5,719 C1045.42,719.6 1050.5,719.97 1055,721.9 C1059.5,723.83 1064.02,727.23 1068.5,730.6 C1072.98,733.97 1078.07,739.22 1081.9,742.1 C1085.73,744.98 1087.33,746.52 1091.5,747.9 C1095.67,749.28 1103.05,749.43 1106.9,750.4 C1110.75,751.37 1111.07,751.07 1114.6,753.7 C1118.13,756.33 1123.62,762.2 1128.1,766.2 C1132.58,770.2 1137.33,775.15 1141.5,777.7 C1145.67,780.25 1149.25,780.28 1153.1,781.5 C1156.95,782.72 1160.43,782.12 1164.6,785 C1168.77,787.88 1173.28,793.93 1178.1,798.8 C1182.92,803.67 1188.7,810.5 1193.5,814.2 C1198.3,817.9 1201.45,819.55 1206.9,821 C1212.35,822.45 1219.78,821.78 1226.2,822.9 C1232.62,824.02 1239.63,826.65 1245.4,827.7 C1251.17,828.75 1255.78,828.95 1260.8,829.2 C1265.82,829.45 1273.05,829.2 1275.5,829.2" fill="none" stroke="#1f77b4" stroke-width="4.4" stroke-linejoin="round" stroke-linecap="butt" clip-path="url(#c6)"/>
<path d="M797.9,829.2 C802.22,829.12 814.67,828.95 823.8,828.7 C832.93,828.45 843.08,827.93 852.7,827.7 C862.32,827.47 871.88,827.37 881.5,827.3 C891.12,827.23 900.78,827.17 910.4,827.3 C920.02,827.43 931.83,827.93 939.2,828.1 C946.57,828.27 948.18,828.75 954.6,828.3 C961.02,827.85 970.65,826.15 977.7,825.4 C984.75,824.65 991.45,824.87 996.9,823.8 C1002.35,822.73 1005.58,820.85 1010.4,819 C1015.22,817.15 1020.62,813.82 1025.8,812.7 C1030.98,811.58 1037.27,813.17 1041.5,812.3 C1045.73,811.43 1047.67,810.38 1051.2,807.5 C1054.73,804.62 1058.53,799.97 1062.7,795 C1066.87,790.03 1072.03,783.15 1076.2,777.7 C1080.37,772.25 1084.18,765.25 1087.7,762.3 C1091.22,759.35 1093.78,760.63 1097.3,760 C1100.82,759.37 1104.95,760.37 1108.8,758.5 C1112.65,756.63 1115.9,752.97 1120.4,748.8 C1124.9,744.63 1131.63,736.43 1135.8,733.5 C1139.97,730.57 1141.23,731.68 1145.4,731.2 C1149.57,730.72 1156,732.15 1160.8,730.6 C1165.6,729.05 1169.4,725.58 1174.2,721.9 C1179,718.22 1184.78,711.45 1189.6,708.5 C1194.42,705.55 1198.28,705.1 1203.1,704.2 C1207.92,703.3 1213.38,702.72 1218.5,703.1 C1223.62,703.48 1229,704 1233.8,706.5 C1238.6,709 1242.8,713.98 1247.3,718.1 C1251.8,722.22 1256.1,728.22 1260.8,731.2 C1265.5,734.18 1273.05,735.2 1275.5,736" fill="none" stroke="#d62728" stroke-width="4.4" stroke-linejoin="round" stroke-dasharray="16.28 7.04" stroke-linecap="butt" clip-path="url(#c6)"/>
<path d="M917.3,845.3v-15 M917.3,651.9v15 M1036.7,845.3v-15 M1036.7,651.9v15 M1156.1,845.3v-15 M1156.1,651.9v15 M857.6,845.3v-7.5 M857.6,651.9v7.5 M977,845.3v-7.5 M977,651.9v7.5 M1096.4,845.3v-7.5 M1096.4,651.9v7.5 M1215.8,845.3v-7.5 M1215.8,651.9v7.5 M797.9,829.18h15 M1275.5,829.18h-15 M797.9,748.6h15 M1275.5,748.6h-15 M797.9,668.02h15 M1275.5,668.02h-15 M797.9,788.89h7.5 M1275.5,788.89h-7.5 M797.9,708.31h7.5 M1275.5,708.31h-7.5" stroke="#000" stroke-width="3" fill="none"/>
<rect x="797.9" y="651.9" width="477.6" height="193.4" fill="none" stroke="#000" stroke-width="4" stroke-linejoin="miter"/>
<text x="783.8" y="636.35" font-size="42.5" text-anchor="end">0.0</text>
<text x="783.8" y="555.6" font-size="42.5" text-anchor="end">0.5</text>
<text x="783.8" y="474.85" font-size="42.5" text-anchor="end">1.0</text>
<text x="783.8" y="843.58" font-size="42.5" text-anchor="end">0.0</text>
<text x="783.8" y="763" font-size="42.5" text-anchor="end">0.5</text>
<text x="783.8" y="682.42" font-size="42.5" text-anchor="end">1.0</text>
<text x="797.9" y="888.8" font-size="42.5" text-anchor="middle">0</text>
<text x="917.3" y="888.8" font-size="42.5" text-anchor="middle">1</text>
<text x="1036.7" y="888.8" font-size="42.5" text-anchor="middle">2</text>
<text x="1156.1" y="888.8" font-size="42.5" text-anchor="middle">3</text>
<text x="1275.5" y="888.8" font-size="42.5" text-anchor="middle">4</text>
<text transform="translate(1003.47,937.9) scale(0.9914,1)" font-size="58" font-style="italic" stroke="#000" stroke-width="1.2" stroke-linejoin="round">t</text>
<text transform="translate(1019.9,937.9) scale(1.0239,1)" font-size="58" stroke="#000" stroke-width="1.2" stroke-linejoin="round">/</text>
<text transform="translate(1036.73,937.9) scale(1.0317,1)" font-size="58" font-style="italic" stroke="#000" stroke-width="1.2" stroke-linejoin="round">T</text>
<text x="668.5" y="475.5" font-family="Liberation Sans, sans-serif" font-weight="bold" font-size="54" stroke="#000" stroke-width="0.7">c</text>
<g transform="translate(710.9,562.9) rotate(-90)"><text transform="translate(-1.48,0) scale(1.0071,1)" font-size="58" font-style="italic" stroke="#000" stroke-width="1.2" stroke-linejoin="round">n</text><text transform="translate(29.17,7.7) scale(1.0526,1)" font-size="40.6" font-style="italic" stroke="#000" stroke-width="1.2" stroke-linejoin="round">j</text></g>
<g transform="translate(710.9,770.3) rotate(-90)"><text transform="translate(-1.48,0) scale(1.0071,1)" font-size="58" font-style="italic" stroke="#000" stroke-width="1.2" stroke-linejoin="round">n</text><text transform="translate(29.17,7.7) scale(1.0526,1)" font-size="40.6" font-style="italic" stroke="#000" stroke-width="1.2" stroke-linejoin="round">j</text></g>
<path d="M1146.4,495.7 L1196,495.7" fill="none" stroke="#1f77b4" stroke-width="4.4" stroke-linejoin="round" stroke-linecap="butt"/>
<text transform="translate(1200.91,510.1) scale(1.0849,1)" font-size="41.2" font-style="italic">n</text>
<text x="1222.57" y="515.3" font-size="28.8" text-anchor="start">1</text>
<path d="M1148.5,541.1 L1188.5,541.1" fill="none" stroke="#d62728" stroke-width="4.4" stroke-linejoin="round" stroke-dasharray="16.28 7.04" stroke-linecap="butt"/>
<text transform="translate(1200.91,555.2) scale(1.0849,1)" font-size="41.2" font-style="italic">n</text>
<text x="1223.83" y="560.4" font-size="28.8" text-anchor="start">2</text>
<path d="M832.5,702.7 L881.8,702.7" fill="none" stroke="#1f77b4" stroke-width="4.4" stroke-linejoin="round" stroke-linecap="butt"/>
<text transform="translate(886.91,717.1) scale(1.0849,1)" font-size="41.2" font-style="italic">n</text>
<text x="909.72" y="722.3" font-size="28.8" text-anchor="start">3</text>
<path d="M834.5,748.5 L874.5,748.5" fill="none" stroke="#d62728" stroke-width="4.4" stroke-linejoin="round" stroke-dasharray="16.28 7.04" stroke-linecap="butt"/>
<text transform="translate(886.91,762.9) scale(1.0849,1)" font-size="41.2" font-style="italic">n</text>
<text x="910.54" y="768.1" font-size="28.8" text-anchor="start">4</text>
<path d="M133.85,1238.25 L135.85,1234.64 L137.85,1231.22 L139.85,1227.91 L141.85,1224.68 L143.85,1221.46 L145.85,1218.19 L147.85,1214.81 L149.85,1211.27 L151.85,1207.52 L153.85,1203.54 L155.85,1199.34 L157.85,1194.94 L159.85,1190.34 L161.85,1185.55 L163.85,1180.58 L165.85,1175.44 L167.85,1170.14 L169.85,1164.68 L171.85,1159.07 L173.85,1153.33 L175.85,1147.46 L177.85,1141.49 L179.85,1135.48 L181.85,1129.46 L183.85,1123.49 L185.85,1117.59 L187.85,1111.83 L189.85,1106.24 L191.85,1100.86 L193.85,1095.71 L195.85,1090.78 L197.85,1086.06 L199.85,1081.55 L201.85,1077.22 L203.85,1073.07 L205.85,1069.1 L207.85,1065.3 L209.85,1061.65 L211.85,1058.15 L213.85,1054.79 L215.85,1051.55 L217.85,1048.45 L219.85,1045.46 L221.85,1042.6 L223.85,1039.85 L225.85,1037.21 L227.85,1034.69 L229.85,1032.27 L231.85,1029.96 L233.85,1027.75 L235.85,1025.64 L237.85,1023.63 L239.85,1021.71 L241.85,1019.88 L243.85,1018.14 L245.85,1016.49 L247.85,1014.92 L249.85,1013.43 L251.85,1012.02 L253.85,1010.68 L255.85,1009.41 L257.85,1008.21 L259.85,1007.08 L261.85,1006 L263.85,1005 L265.85,1004.04 L267.85,1003.15 L269.85,1002.3 L271.85,1001.5 L273.85,1000.75 L275.85,1000.05 L277.85,999.38 L279.85,998.75 L281.85,998.16 L283.85,997.6 L285.85,997.07 L287.85,996.56 L289.85,996.08 L291.85,995.62 L293.85,995.18 L295.85,994.76 L297.85,994.35 L299.85,993.97 L301.85,993.6 L303.85,993.24 L305.85,992.91 L307.85,992.59 L309.85,992.29 L311.85,992.01 L313.85,991.74 L315.85,991.48 L317.85,991.25 L319.85,991.03 L321.85,990.82 L323.85,990.63 L325.85,990.45 L327.85,990.29 L329.85,990.14 L331.85,990 L333.85,989.88 L335.85,989.77 L337.85,989.68 L339.85,989.6 L341.85,989.53 L343.85,989.47 L345.85,989.42 L347.85,989.39 L349.85,989.37 L351.85,989.36 L353.85,989.36 L355.85,989.37 L357.85,989.4 L359.85,989.43 L361.85,989.47 L363.85,989.53 L365.85,989.59 L367.85,989.66 L369.85,989.74 L371.85,989.83 L373.85,989.93 L375.85,990.04 L377.85,990.16 L379.85,990.28 L381.85,990.41 L383.85,990.55 L385.85,990.7 L387.85,990.85 L389.85,991.01 L391.85,991.18 L393.85,991.35 L395.85,991.53 L397.85,991.71 L399.85,991.9 L401.85,992.09 L403.85,992.29 L405.85,992.5 L407.85,992.71 L409.85,992.92 L411.85,993.14 L413.85,993.36 L415.85,993.58 L417.85,993.81 L419.85,994.04 L421.85,994.27 L423.85,994.51 L425.85,994.75 L427.85,994.99 L429.85,995.23 L431.85,995.47 L433.85,995.71 L435.85,995.96 L437.85,996.21 L439.85,996.45 L441.85,996.7 L443.85,996.95 L445.85,997.2 L447.85,997.44 L449.85,997.69 L451.85,997.94 L453.85,998.2 L455.85,998.45 L457.85,998.7 L459.85,998.95 L461.85,999.21 L463.85,999.46 L465.85,999.72 L467.85,999.97 L469.85,1000.23 L471.85,1000.49 L473.85,1000.75 L475.85,1001.01 L477.85,1001.27 L479.85,1001.53 L481.85,1001.79 L483.85,1002.05 L485.85,1002.32 L487.85,1002.58 L489.85,1002.85 L491.85,1003.12 L493.85,1003.39 L495.85,1003.66 L497.85,1003.93 L499.85,1004.2 L501.85,1004.47 L503.85,1004.75 L505.85,1005.02 L507.85,1005.3 L509.85,1005.58 L511.85,1005.86 L513.85,1006.14 L515.85,1006.42 L517.85,1006.7 L519.85,1006.99 L521.85,1007.27 L523.85,1007.56 L525.85,1007.85 L527.85,1008.14 L529.85,1008.43 L531.85,1008.72 L533.85,1009.02 L535.85,1009.31 L537.85,1009.61 L539.85,1009.91 L541.85,1010.21 L543.85,1010.51 L545.85,1010.82 L547.85,1011.12 L549.85,1011.43 L551.85,1011.74 L553.85,1012.05 L555.85,1012.36 L557.85,1012.68 L559.85,1012.99 L561.85,1013.31 L563.85,1013.63 L565.85,1013.95 L567.85,1014.28 L569.85,1014.6 L571.85,1014.93 L573.85,1015.26 L575.85,1015.59 L577.85,1015.92 L579.85,1016.26 L581.85,1016.59 L583.85,1016.93 L585.85,1017.27 L587.85,1017.61 L589.85,1017.96 L591.85,1018.31 L593.85,1018.66 L595.85,1019.01 L597.85,1019.36 L599.85,1019.72 L601.85,1020.07 L603.85,1020.43 L605.85,1020.79 L607.85,1021.16 L609.85,1021.52 L611.85,1021.89 L613.85,1022.26 L615.85,1022.63 L617.85,1023 L619.85,1023.37 L621.85,1023.75 L623.85,1024.12 L625.85,1024.5 L627.85,1024.88 L629.85,1025.26 L631.85,1025.64 L633.85,1026.02 L635.85,1026.41 L637.85,1026.79 L639.85,1027.18 L641.85,1027.57 L643.85,1027.96 L645.85,1028.35 L647.85,1028.74 L649.85,1029.13 L651.85,1029.53 L653.85,1029.92 L655.85,1030.32 L657.85,1030.71 L659.85,1031.11 L661.85,1031.51 L663.85,1031.9 L665.85,1032.3 L667.85,1032.7 L669.85,1033.1 L671.85,1033.5 L673.85,1033.9 L675.85,1034.31 L677.85,1034.71 L679.85,1035.11 L681.85,1035.51 L683.85,1035.92 L685.85,1036.32 L687.85,1036.72 L689.85,1037.13 L691.85,1037.53 L693.85,1037.94 L695.85,1038.34 L697.85,1038.74 L699.85,1039.15 L701.85,1039.55 L703.85,1039.96 L705.85,1040.36 L707.85,1040.76 L709.85,1041.17 L711.85,1041.57 L713.85,1041.97 L715.85,1042.37 L717.85,1042.78 L719.85,1043.18 L721.85,1043.58 L723.85,1043.98 L725.85,1044.38 L727.85,1044.78 L729.85,1045.18 L731.85,1045.58 L733.85,1045.97 L735.85,1046.37 L737.85,1046.77 L739.85,1047.16 L741.85,1047.56 L743.85,1047.95 L745.85,1048.34 L747.85,1048.73 L749.85,1049.12 L751.85,1049.51 L753.85,1049.9 L755.85,1050.29 L757.85,1050.68 L759.85,1051.06 L761.85,1051.44 L763.85,1051.83 L765.85,1052.21 L767.85,1052.59 L769.85,1052.96 L771.85,1053.34 L773.85,1053.71 L775.85,1054.09 L777.85,1054.46 L779.85,1054.83 L781.85,1055.2 L783.85,1055.57 L785.85,1055.93 L787.85,1056.3 L789.85,1056.66 L791.85,1057.02 L793.85,1057.38 L795.85,1057.74 L797.85,1058.1 L799.85,1058.46 L801.85,1058.82 L803.85,1059.17 L805.85,1059.53 L807.85,1059.88 L809.85,1060.24 L811.85,1060.59 L813.85,1060.95 L815.85,1061.3 L817.85,1061.65 L819.85,1062.01 L821.85,1062.36 L823.85,1062.71 L825.85,1063.07 L827.85,1063.42 L829.85,1063.77 L831.85,1064.13 L833.85,1064.48 L835.85,1064.83 L837.85,1065.19 L839.85,1065.54 L841.85,1065.9 L843.85,1066.26 L845.85,1066.61 L847.85,1066.97 L849.85,1067.33 L851.85,1067.69 L853.85,1068.05 L855.85,1068.41 L857.85,1068.78 L859.85,1069.14 L861.85,1069.51 L863.85,1069.87 L865.85,1070.24 L867.85,1070.61 L869.85,1070.98 L871.85,1071.36 L873.85,1071.73 L875.85,1072.11 L877.85,1072.49 L879.85,1072.87 L881.85,1073.25 L883.85,1073.63 L885.85,1074.02 L887.85,1074.41 L889.85,1074.8 L891.85,1075.19 L893.85,1075.59 L895.85,1075.98 L897.85,1076.38 L899.85,1076.78 L901.85,1077.19 L903.85,1077.59 L905.85,1078 L907.85,1078.4 L909.85,1078.82 L911.85,1079.23 L913.85,1079.64 L915.85,1080.06 L917.85,1080.48 L919.85,1080.9 L921.85,1081.32 L923.85,1081.75 L925.85,1082.17 L927.85,1082.6 L929.85,1083.03 L931.85,1083.46 L933.85,1083.9 L935.85,1084.33 L937.85,1084.77 L939.85,1085.21 L941.85,1085.65 L943.85,1086.1 L945.85,1086.54 L947.85,1086.99 L949.85,1087.44 L951.85,1087.89 L953.85,1088.35 L955.85,1088.8 L957.85,1089.26 L959.85,1089.72 L961.85,1090.18 L963.85,1090.65 L965.85,1091.11 L967.85,1091.58 L969.85,1092.05 L971.85,1092.52 L973.85,1093 L975.85,1093.47 L977.85,1093.95 L979.85,1094.43 L981.85,1094.91 L983.85,1095.39 L985.85,1095.88 L987.85,1096.36 L989.85,1096.85 L991.85,1097.34 L993.85,1097.84 L995.85,1098.33 L997.85,1098.83 L999.85,1099.33 L1001.85,1099.83 L1003.85,1100.33 L1005.85,1100.83 L1007.85,1101.34 L1009.85,1101.85 L1011.85,1102.36 L1013.85,1102.87 L1015.85,1103.38 L1017.85,1103.9 L1019.85,1104.42 L1021.85,1104.94 L1023.85,1105.46 L1025.85,1105.98 L1027.85,1106.51 L1029.85,1107.03 L1031.85,1107.56 L1033.85,1108.09 L1035.85,1108.63 L1037.85,1109.16 L1039.85,1109.7 L1041.85,1110.24 L1043.85,1110.78 L1045.85,1111.32 L1047.85,1111.86 L1049.85,1112.41 L1051.85,1112.96 L1053.85,1113.51 L1055.85,1114.06 L1057.85,1114.61 L1059.85,1115.17 L1061.85,1115.73 L1063.85,1116.29 L1065.85,1116.85 L1067.85,1117.41 L1069.85,1117.97 L1071.85,1118.54 L1073.85,1119.11 L1075.85,1119.68 L1077.85,1120.25 L1079.85,1120.83 L1081.85,1121.4 L1083.85,1121.98 L1085.85,1122.56 L1087.85,1123.14 L1089.85,1123.72 L1091.85,1124.31 L1093.85,1124.9 L1095.85,1125.49 L1097.85,1126.08 L1099.85,1126.67 L1101.85,1127.26 L1103.85,1127.86 L1105.85,1128.46 L1107.85,1129.06 L1109.85,1129.66 L1111.85,1130.26 L1113.85,1130.87 L1115.85,1131.48 L1117.85,1132.09 L1119.85,1132.71 L1121.85,1133.34 L1123.85,1133.96 L1125.85,1134.6 L1127.85,1135.24 L1129.85,1135.88 L1131.85,1136.53 L1133.85,1137.19 L1135.85,1137.86 L1137.85,1138.54 L1139.85,1139.22 L1141.85,1139.92 L1143.85,1140.62 L1145.85,1141.33 L1147.85,1142.06 L1149.85,1142.79 L1151.85,1143.54 L1153.85,1144.3 L1155.85,1145.07 L1157.85,1145.85 L1159.85,1146.65 L1161.85,1147.46 L1163.85,1148.29 L1165.85,1149.13 L1167.85,1149.98 L1169.85,1150.85 L1171.85,1151.74 L1173.85,1152.64 L1175.85,1153.56 L1177.85,1154.5 L1179.85,1155.45 L1181.85,1156.43 L1183.85,1157.42 L1185.85,1158.43 L1187.85,1159.46 L1189.85,1160.52 L1191.85,1161.59 L1193.85,1162.68 L1195.85,1163.8 L1197.85,1164.93 L1199.85,1166.09 L1201.85,1167.27 L1203.85,1168.48 L1205.85,1169.71 L1207.85,1170.96 L1209.85,1172.24 L1211.85,1173.54 L1213.85,1174.87 L1215.85,1176.23 L1217.85,1177.61 L1219.85,1179.02 L1221.85,1180.45 L1223.85,1181.92 L1225.85,1183.41 L1227.85,1184.93 L1229.85,1186.48 L1231.85,1188.07 L1233.85,1189.7 L1235.85,1191.37 L1237.85,1193.08 L1239.85,1194.85 L1241.85,1196.66 L1243.85,1198.53 L1245.85,1200.46 L1247.85,1202.45 L1249.85,1204.51 L1251.85,1206.64 L1253.85,1208.84 L1255.85,1211.11 L1257.85,1213.47 L1259.85,1215.91 L1261.85,1218.43 L1263.85,1221.05 L1265.85,1223.75 L1267.85,1226.51 L1269.85,1229.27 L1271.85,1231.96 L1273.85,1234.53 L1275.5,1236.51" fill="none" stroke="#1f77b4" stroke-width="4.4" stroke-linejoin="round" stroke-linecap="butt" clip-path="url(#c7)"/>
<path d="M133.85,1238.29 L135.85,1238.28 L137.85,1238.27 L139.85,1238.25 L141.85,1238.23 L143.85,1238.2 L145.85,1238.16 L147.85,1238.12 L149.85,1238.07 L151.85,1238.02 L153.85,1237.96 L155.85,1237.89 L157.85,1237.82 L159.85,1237.74 L161.85,1237.65 L163.85,1237.56 L165.85,1237.46 L167.85,1237.35 L169.85,1237.24 L171.85,1237.12 L173.85,1237 L175.85,1236.87 L177.85,1236.73 L179.85,1236.59 L181.85,1236.44 L183.85,1236.28 L185.85,1236.12 L187.85,1235.95 L189.85,1235.78 L191.85,1235.59 L193.85,1235.41 L195.85,1235.21 L197.85,1235.01 L199.85,1234.8 L201.85,1234.59 L203.85,1234.37 L205.85,1234.14 L207.85,1233.91 L209.85,1233.67 L211.85,1233.43 L213.85,1233.18 L215.85,1232.92 L217.85,1232.65 L219.85,1232.38 L221.85,1232.1 L223.85,1231.82 L225.85,1231.53 L227.85,1231.23 L229.85,1230.93 L231.85,1230.62 L233.85,1230.3 L235.85,1229.98 L237.85,1229.65 L239.85,1229.32 L241.85,1228.97 L243.85,1228.63 L245.85,1228.27 L247.85,1227.91 L249.85,1227.54 L251.85,1227.17 L253.85,1226.79 L255.85,1226.4 L257.85,1226 L259.85,1225.6 L261.85,1225.2 L263.85,1224.78 L265.85,1224.36 L267.85,1223.94 L269.85,1223.5 L271.85,1223.06 L273.85,1222.62 L275.85,1222.16 L277.85,1221.7 L279.85,1221.24 L281.85,1220.77 L283.85,1220.29 L285.85,1219.8 L287.85,1219.31 L289.85,1218.81 L291.85,1218.31 L293.85,1217.79 L295.85,1217.28 L297.85,1216.75 L299.85,1216.22 L301.85,1215.68 L303.85,1215.14 L305.85,1214.58 L307.85,1214.03 L309.85,1213.46 L311.85,1212.89 L313.85,1212.31 L315.85,1211.73 L317.85,1211.14 L319.85,1210.54 L321.85,1209.93 L323.85,1209.32 L325.85,1208.71 L327.85,1208.08 L329.85,1207.45 L331.85,1206.81 L333.85,1206.17 L335.85,1205.52 L337.85,1204.86 L339.85,1204.2 L341.85,1203.53 L343.85,1202.86 L345.85,1202.18 L347.85,1201.49 L349.85,1200.81 L351.85,1200.11 L353.85,1199.41 L355.85,1198.71 L357.85,1198.01 L359.85,1197.3 L361.85,1196.58 L363.85,1195.87 L365.85,1195.14 L367.85,1194.42 L369.85,1193.69 L371.85,1192.97 L373.85,1192.23 L375.85,1191.5 L377.85,1190.76 L379.85,1190.03 L381.85,1189.29 L383.85,1188.55 L385.85,1187.8 L387.85,1187.06 L389.85,1186.32 L391.85,1185.57 L393.85,1184.83 L395.85,1184.08 L397.85,1183.33 L399.85,1182.59 L401.85,1181.84 L403.85,1181.1 L405.85,1180.35 L407.85,1179.61 L409.85,1178.87 L411.85,1178.13 L413.85,1177.39 L415.85,1176.65 L417.85,1175.92 L419.85,1175.18 L421.85,1174.45 L423.85,1173.72 L425.85,1173 L427.85,1172.28 L429.85,1171.56 L431.85,1170.84 L433.85,1170.13 L435.85,1169.42 L437.85,1168.71 L439.85,1168.01 L441.85,1167.32 L443.85,1166.62 L445.85,1165.93 L447.85,1165.25 L449.85,1164.57 L451.85,1163.89 L453.85,1163.22 L455.85,1162.56 L457.85,1161.9 L459.85,1161.24 L461.85,1160.59 L463.85,1159.94 L465.85,1159.29 L467.85,1158.66 L469.85,1158.02 L471.85,1157.39 L473.85,1156.77 L475.85,1156.15 L477.85,1155.53 L479.85,1154.93 L481.85,1154.32 L483.85,1153.72 L485.85,1153.13 L487.85,1152.54 L489.85,1151.96 L491.85,1151.38 L493.85,1150.8 L495.85,1150.24 L497.85,1149.67 L499.85,1149.12 L501.85,1148.57 L503.85,1148.02 L505.85,1147.48 L507.85,1146.95 L509.85,1146.42 L511.85,1145.9 L513.85,1145.38 L515.85,1144.87 L517.85,1144.36 L519.85,1143.86 L521.85,1143.37 L523.85,1142.88 L525.85,1142.4 L527.85,1141.92 L529.85,1141.45 L531.85,1140.99 L533.85,1140.53 L535.85,1140.08 L537.85,1139.64 L539.85,1139.2 L541.85,1138.77 L543.85,1138.34 L545.85,1137.93 L547.85,1137.51 L549.85,1137.11 L551.85,1136.71 L553.85,1136.32 L555.85,1135.93 L557.85,1135.55 L559.85,1135.18 L561.85,1134.81 L563.85,1134.46 L565.85,1134.11 L567.85,1133.76 L569.85,1133.42 L571.85,1133.09 L573.85,1132.77 L575.85,1132.45 L577.85,1132.15 L579.85,1131.84 L581.85,1131.55 L583.85,1131.26 L585.85,1130.98 L587.85,1130.71 L589.85,1130.45 L591.85,1130.19 L593.85,1129.94 L595.85,1129.7 L597.85,1129.46 L599.85,1129.24 L601.85,1129.02 L603.85,1128.8 L605.85,1128.6 L607.85,1128.4 L609.85,1128.21 L611.85,1128.02 L613.85,1127.85 L615.85,1127.67 L617.85,1127.51 L619.85,1127.35 L621.85,1127.2 L623.85,1127.05 L625.85,1126.92 L627.85,1126.78 L629.85,1126.66 L631.85,1126.54 L633.85,1126.42 L635.85,1126.31 L637.85,1126.21 L639.85,1126.11 L641.85,1126.02 L643.85,1125.94 L645.85,1125.86 L647.85,1125.78 L649.85,1125.71 L651.85,1125.65 L653.85,1125.59 L655.85,1125.54 L657.85,1125.49 L659.85,1125.45 L661.85,1125.41 L663.85,1125.37 L665.85,1125.34 L667.85,1125.32 L669.85,1125.3 L671.85,1125.28 L673.85,1125.27 L675.85,1125.27 L677.85,1125.26 L679.85,1125.26 L681.85,1125.27 L683.85,1125.28 L685.85,1125.29 L687.85,1125.31 L689.85,1125.33 L691.85,1125.36 L693.85,1125.39 L695.85,1125.42 L697.85,1125.45 L699.85,1125.49 L701.85,1125.53 L703.85,1125.58 L705.85,1125.63 L707.85,1125.68 L709.85,1125.73 L711.85,1125.79 L713.85,1125.85 L715.85,1125.92 L717.85,1125.98 L719.85,1126.05 L721.85,1126.12 L723.85,1126.19 L725.85,1126.27 L727.85,1126.35 L729.85,1126.43 L731.85,1126.52 L733.85,1126.6 L735.85,1126.69 L737.85,1126.78 L739.85,1126.88 L741.85,1126.98 L743.85,1127.08 L745.85,1127.18 L747.85,1127.28 L749.85,1127.39 L751.85,1127.5 L753.85,1127.61 L755.85,1127.73 L757.85,1127.85 L759.85,1127.97 L761.85,1128.09 L763.85,1128.22 L765.85,1128.34 L767.85,1128.48 L769.85,1128.61 L771.85,1128.74 L773.85,1128.88 L775.85,1129.02 L777.85,1129.17 L779.85,1129.31 L781.85,1129.46 L783.85,1129.61 L785.85,1129.77 L787.85,1129.92 L789.85,1130.08 L791.85,1130.24 L793.85,1130.4 L795.85,1130.57 L797.85,1130.74 L799.85,1130.91 L801.85,1131.08 L803.85,1131.26 L805.85,1131.44 L807.85,1131.62 L809.85,1131.8 L811.85,1131.98 L813.85,1132.17 L815.85,1132.36 L817.85,1132.56 L819.85,1132.75 L821.85,1132.95 L823.85,1133.15 L825.85,1133.35 L827.85,1133.55 L829.85,1133.76 L831.85,1133.97 L833.85,1134.18 L835.85,1134.4 L837.85,1134.61 L839.85,1134.83 L841.85,1135.05 L843.85,1135.28 L845.85,1135.5 L847.85,1135.73 L849.85,1135.96 L851.85,1136.2 L853.85,1136.43 L855.85,1136.67 L857.85,1136.91 L859.85,1137.15 L861.85,1137.39 L863.85,1137.64 L865.85,1137.89 L867.85,1138.14 L869.85,1138.4 L871.85,1138.65 L873.85,1138.91 L875.85,1139.17 L877.85,1139.43 L879.85,1139.7 L881.85,1139.97 L883.85,1140.23 L885.85,1140.51 L887.85,1140.78 L889.85,1141.06 L891.85,1141.34 L893.85,1141.62 L895.85,1141.9 L897.85,1142.19 L899.85,1142.48 L901.85,1142.77 L903.85,1143.07 L905.85,1143.37 L907.85,1143.67 L909.85,1143.98 L911.85,1144.28 L913.85,1144.6 L915.85,1144.91 L917.85,1145.23 L919.85,1145.55 L921.85,1145.88 L923.85,1146.2 L925.85,1146.54 L927.85,1146.87 L929.85,1147.21 L931.85,1147.55 L933.85,1147.9 L935.85,1148.25 L937.85,1148.61 L939.85,1148.96 L941.85,1149.33 L943.85,1149.69 L945.85,1150.06 L947.85,1150.44 L949.85,1150.82 L951.85,1151.2 L953.85,1151.59 L955.85,1151.98 L957.85,1152.38 L959.85,1152.78 L961.85,1153.19 L963.85,1153.6 L965.85,1154.02 L967.85,1154.44 L969.85,1154.86 L971.85,1155.29 L973.85,1155.73 L975.85,1156.17 L977.85,1156.62 L979.85,1157.07 L981.85,1157.52 L983.85,1157.98 L985.85,1158.45 L987.85,1158.92 L989.85,1159.4 L991.85,1159.88 L993.85,1160.37 L995.85,1160.87 L997.85,1161.37 L999.85,1161.88 L1001.85,1162.39 L1003.85,1162.91 L1005.85,1163.43 L1007.85,1163.96 L1009.85,1164.49 L1011.85,1165.03 L1013.85,1165.57 L1015.85,1166.11 L1017.85,1166.65 L1019.85,1167.2 L1021.85,1167.74 L1023.85,1168.29 L1025.85,1168.83 L1027.85,1169.37 L1029.85,1169.91 L1031.85,1170.45 L1033.85,1170.98 L1035.85,1171.51 L1037.85,1172.03 L1039.85,1172.55 L1041.85,1173.06 L1043.85,1173.57 L1045.85,1174.06 L1047.85,1174.55 L1049.85,1175.03 L1051.85,1175.5 L1053.85,1175.96 L1055.85,1176.41 L1057.85,1176.85 L1059.85,1177.27 L1061.85,1177.68 L1063.85,1178.08 L1065.85,1178.46 L1067.85,1178.83 L1069.85,1179.19 L1071.85,1179.53 L1073.85,1179.87 L1075.85,1180.2 L1077.85,1180.53 L1079.85,1180.85 L1081.85,1181.17 L1083.85,1181.49 L1085.85,1181.81 L1087.85,1182.13 L1089.85,1182.46 L1091.85,1182.79 L1093.85,1183.14 L1095.85,1183.49 L1097.85,1183.85 L1099.85,1184.23 L1101.85,1184.62 L1103.85,1185.02 L1105.85,1185.44 L1107.85,1185.87 L1109.85,1186.31 L1111.85,1186.77 L1113.85,1187.24 L1115.85,1187.72 L1117.85,1188.21 L1119.85,1188.71 L1121.85,1189.22 L1123.85,1189.74 L1125.85,1190.27 L1127.85,1190.81 L1129.85,1191.36 L1131.85,1191.91 L1133.85,1192.47 L1135.85,1193.04 L1137.85,1193.61 L1139.85,1194.2 L1141.85,1194.78 L1143.85,1195.37 L1145.85,1195.97 L1147.85,1196.57 L1149.85,1197.17 L1151.85,1197.78 L1153.85,1198.39 L1155.85,1199 L1157.85,1199.61 L1159.85,1200.23 L1161.85,1200.84 L1163.85,1201.46 L1165.85,1202.07 L1167.85,1202.69 L1169.85,1203.3 L1171.85,1203.91 L1173.85,1204.52 L1175.85,1205.13 L1177.85,1205.74 L1179.85,1206.34 L1181.85,1206.94 L1183.85,1207.53 L1185.85,1208.13 L1187.85,1208.72 L1189.85,1209.31 L1191.85,1209.9 L1193.85,1210.49 L1195.85,1211.08 L1197.85,1211.68 L1199.85,1212.27 L1201.85,1212.88 L1203.85,1213.48 L1205.85,1214.09 L1207.85,1214.71 L1209.85,1215.33 L1211.85,1215.96 L1213.85,1216.6 L1215.85,1217.24 L1217.85,1217.9 L1219.85,1218.56 L1221.85,1219.24 L1223.85,1219.92 L1225.85,1220.61 L1227.85,1221.31 L1229.85,1222.01 L1231.85,1222.71 L1233.85,1223.42 L1235.85,1224.13 L1237.85,1224.83 L1239.85,1225.53 L1241.85,1226.23 L1243.85,1226.92 L1245.85,1227.61 L1247.85,1228.29 L1249.85,1228.96 L1251.85,1229.62 L1253.85,1230.27 L1255.85,1230.91 L1257.85,1231.53 L1259.85,1232.14 L1261.85,1232.73 L1263.85,1233.3 L1265.85,1233.85 L1267.85,1234.38 L1269.85,1234.89 L1271.85,1235.37 L1273.85,1235.84 L1275.5,1236.2" fill="none" stroke="#d62728" stroke-width="4.4" stroke-linejoin="round" stroke-dasharray="16.28 7.04" stroke-linecap="butt" clip-path="url(#c7)"/>
<path d="M133.85,1237.79 L135.85,1237.48 L137.85,1237.17 L139.85,1236.87 L141.85,1236.55 L143.85,1236.24 L145.85,1235.93 L147.85,1235.61 L149.85,1235.3 L151.85,1234.97 L153.85,1234.65 L155.85,1234.33 L157.85,1234 L159.85,1233.67 L161.85,1233.33 L163.85,1232.99 L165.85,1232.65 L167.85,1232.3 L169.85,1231.95 L171.85,1231.6 L173.85,1231.24 L175.85,1230.87 L177.85,1230.51 L179.85,1230.13 L181.85,1229.75 L183.85,1229.37 L185.85,1228.98 L187.85,1228.59 L189.85,1228.19 L191.85,1227.78 L193.85,1227.37 L195.85,1226.95 L197.85,1226.52 L199.85,1226.09 L201.85,1225.65 L203.85,1225.21 L205.85,1224.75 L207.85,1224.29 L209.85,1223.83 L211.85,1223.35 L213.85,1222.87 L215.85,1222.38 L217.85,1221.88 L219.85,1221.37 L221.85,1220.85 L223.85,1220.32 L225.85,1219.79 L227.85,1219.24 L229.85,1218.69 L231.85,1218.13 L233.85,1217.56 L235.85,1216.97 L237.85,1216.38 L239.85,1215.78 L241.85,1215.17 L243.85,1214.54 L245.85,1213.91 L247.85,1213.26 L249.85,1212.61 L251.85,1211.94 L253.85,1211.26 L255.85,1210.57 L257.85,1209.87 L259.85,1209.15 L261.85,1208.42 L263.85,1207.68 L265.85,1206.93 L267.85,1206.17 L269.85,1205.39 L271.85,1204.6 L273.85,1203.8 L275.85,1202.98 L277.85,1202.15 L279.85,1201.31 L281.85,1200.45 L283.85,1199.58 L285.85,1198.69 L287.85,1197.79 L289.85,1196.88 L291.85,1195.96 L293.85,1195.03 L295.85,1194.08 L297.85,1193.13 L299.85,1192.17 L301.85,1191.2 L303.85,1190.22 L305.85,1189.23 L307.85,1188.24 L309.85,1187.24 L311.85,1186.23 L313.85,1185.22 L315.85,1184.21 L317.85,1183.19 L319.85,1182.17 L321.85,1181.14 L323.85,1180.12 L325.85,1179.09 L327.85,1178.06 L329.85,1177.03 L331.85,1176 L333.85,1174.97 L335.85,1173.94 L337.85,1172.91 L339.85,1171.89 L341.85,1170.86 L343.85,1169.84 L345.85,1168.82 L347.85,1167.81 L349.85,1166.79 L351.85,1165.78 L353.85,1164.78 L355.85,1163.77 L357.85,1162.77 L359.85,1161.78 L361.85,1160.79 L363.85,1159.81 L365.85,1158.83 L367.85,1157.85 L369.85,1156.89 L371.85,1155.92 L373.85,1154.97 L375.85,1154.02 L377.85,1153.08 L379.85,1152.15 L381.85,1151.22 L383.85,1150.3 L385.85,1149.39 L387.85,1148.49 L389.85,1147.59 L391.85,1146.7 L393.85,1145.82 L395.85,1144.95 L397.85,1144.08 L399.85,1143.22 L401.85,1142.37 L403.85,1141.53 L405.85,1140.69 L407.85,1139.86 L409.85,1139.04 L411.85,1138.23 L413.85,1137.42 L415.85,1136.63 L417.85,1135.84 L419.85,1135.06 L421.85,1134.28 L423.85,1133.52 L425.85,1132.76 L427.85,1132.01 L429.85,1131.27 L431.85,1130.53 L433.85,1129.81 L435.85,1129.09 L437.85,1128.38 L439.85,1127.68 L441.85,1126.98 L443.85,1126.3 L445.85,1125.62 L447.85,1124.95 L449.85,1124.29 L451.85,1123.64 L453.85,1122.99 L455.85,1122.36 L457.85,1121.73 L459.85,1121.11 L461.85,1120.5 L463.85,1119.9 L465.85,1119.31 L467.85,1118.72 L469.85,1118.14 L471.85,1117.58 L473.85,1117.02 L475.85,1116.47 L477.85,1115.93 L479.85,1115.39 L481.85,1114.87 L483.85,1114.35 L485.85,1113.85 L487.85,1113.35 L489.85,1112.86 L491.85,1112.38 L493.85,1111.91 L495.85,1111.44 L497.85,1110.99 L499.85,1110.55 L501.85,1110.11 L503.85,1109.68 L505.85,1109.27 L507.85,1108.86 L509.85,1108.46 L511.85,1108.06 L513.85,1107.68 L515.85,1107.31 L517.85,1106.94 L519.85,1106.58 L521.85,1106.23 L523.85,1105.89 L525.85,1105.56 L527.85,1105.24 L529.85,1104.92 L531.85,1104.61 L533.85,1104.31 L535.85,1104.02 L537.85,1103.74 L539.85,1103.46 L541.85,1103.19 L543.85,1102.93 L545.85,1102.68 L547.85,1102.43 L549.85,1102.19 L551.85,1101.96 L553.85,1101.74 L555.85,1101.52 L557.85,1101.32 L559.85,1101.11 L561.85,1100.92 L563.85,1100.73 L565.85,1100.55 L567.85,1100.38 L569.85,1100.21 L571.85,1100.05 L573.85,1099.9 L575.85,1099.76 L577.85,1099.62 L579.85,1099.49 L581.85,1099.36 L583.85,1099.24 L585.85,1099.13 L587.85,1099.02 L589.85,1098.92 L591.85,1098.83 L593.85,1098.74 L595.85,1098.66 L597.85,1098.58 L599.85,1098.51 L601.85,1098.45 L603.85,1098.39 L605.85,1098.34 L607.85,1098.3 L609.85,1098.26 L611.85,1098.22 L613.85,1098.19 L615.85,1098.17 L617.85,1098.15 L619.85,1098.14 L621.85,1098.13 L623.85,1098.13 L625.85,1098.14 L627.85,1098.14 L629.85,1098.16 L631.85,1098.18 L633.85,1098.2 L635.85,1098.23 L637.85,1098.26 L639.85,1098.3 L641.85,1098.35 L643.85,1098.39 L645.85,1098.45 L647.85,1098.5 L649.85,1098.57 L651.85,1098.63 L653.85,1098.7 L655.85,1098.78 L657.85,1098.86 L659.85,1098.94 L661.85,1099.03 L663.85,1099.12 L665.85,1099.22 L667.85,1099.32 L669.85,1099.42 L671.85,1099.53 L673.85,1099.64 L675.85,1099.76 L677.85,1099.88 L679.85,1100 L681.85,1100.13 L683.85,1100.26 L685.85,1100.4 L687.85,1100.53 L689.85,1100.67 L691.85,1100.82 L693.85,1100.97 L695.85,1101.12 L697.85,1101.27 L699.85,1101.43 L701.85,1101.59 L703.85,1101.76 L705.85,1101.92 L707.85,1102.09 L709.85,1102.27 L711.85,1102.44 L713.85,1102.62 L715.85,1102.8 L717.85,1102.99 L719.85,1103.17 L721.85,1103.36 L723.85,1103.55 L725.85,1103.75 L727.85,1103.94 L729.85,1104.14 L731.85,1104.34 L733.85,1104.55 L735.85,1104.75 L737.85,1104.96 L739.85,1105.17 L741.85,1105.38 L743.85,1105.6 L745.85,1105.81 L747.85,1106.03 L749.85,1106.25 L751.85,1106.47 L753.85,1106.69 L755.85,1106.92 L757.85,1107.14 L759.85,1107.37 L761.85,1107.6 L763.85,1107.83 L765.85,1108.06 L767.85,1108.3 L769.85,1108.53 L771.85,1108.77 L773.85,1109 L775.85,1109.24 L777.85,1109.48 L779.85,1109.72 L781.85,1109.96 L783.85,1110.2 L785.85,1110.45 L787.85,1110.69 L789.85,1110.94 L791.85,1111.19 L793.85,1111.43 L795.85,1111.68 L797.85,1111.93 L799.85,1112.19 L801.85,1112.44 L803.85,1112.7 L805.85,1112.95 L807.85,1113.21 L809.85,1113.47 L811.85,1113.73 L813.85,1114 L815.85,1114.26 L817.85,1114.53 L819.85,1114.8 L821.85,1115.07 L823.85,1115.34 L825.85,1115.62 L827.85,1115.89 L829.85,1116.17 L831.85,1116.45 L833.85,1116.74 L835.85,1117.02 L837.85,1117.31 L839.85,1117.6 L841.85,1117.89 L843.85,1118.18 L845.85,1118.48 L847.85,1118.77 L849.85,1119.08 L851.85,1119.38 L853.85,1119.68 L855.85,1119.99 L857.85,1120.3 L859.85,1120.62 L861.85,1120.93 L863.85,1121.25 L865.85,1121.57 L867.85,1121.89 L869.85,1122.22 L871.85,1122.55 L873.85,1122.88 L875.85,1123.22 L877.85,1123.56 L879.85,1123.9 L881.85,1124.24 L883.85,1124.59 L885.85,1124.94 L887.85,1125.29 L889.85,1125.65 L891.85,1126 L893.85,1126.37 L895.85,1126.73 L897.85,1127.1 L899.85,1127.47 L901.85,1127.84 L903.85,1128.22 L905.85,1128.59 L907.85,1128.98 L909.85,1129.36 L911.85,1129.75 L913.85,1130.14 L915.85,1130.53 L917.85,1130.92 L919.85,1131.32 L921.85,1131.72 L923.85,1132.12 L925.85,1132.53 L927.85,1132.93 L929.85,1133.35 L931.85,1133.76 L933.85,1134.17 L935.85,1134.59 L937.85,1135.01 L939.85,1135.43 L941.85,1135.86 L943.85,1136.29 L945.85,1136.72 L947.85,1137.15 L949.85,1137.58 L951.85,1138.02 L953.85,1138.46 L955.85,1138.9 L957.85,1139.35 L959.85,1139.79 L961.85,1140.24 L963.85,1140.69 L965.85,1141.15 L967.85,1141.6 L969.85,1142.06 L971.85,1142.52 L973.85,1142.98 L975.85,1143.44 L977.85,1143.91 L979.85,1144.38 L981.85,1144.85 L983.85,1145.32 L985.85,1145.79 L987.85,1146.27 L989.85,1146.75 L991.85,1147.23 L993.85,1147.71 L995.85,1148.19 L997.85,1148.68 L999.85,1149.17 L1001.85,1149.66 L1003.85,1150.15 L1005.85,1150.64 L1007.85,1151.14 L1009.85,1151.63 L1011.85,1152.13 L1013.85,1152.63 L1015.85,1153.13 L1017.85,1153.64 L1019.85,1154.14 L1021.85,1154.65 L1023.85,1155.16 L1025.85,1155.67 L1027.85,1156.18 L1029.85,1156.7 L1031.85,1157.21 L1033.85,1157.73 L1035.85,1158.25 L1037.85,1158.77 L1039.85,1159.29 L1041.85,1159.81 L1043.85,1160.34 L1045.85,1160.86 L1047.85,1161.39 L1049.85,1161.92 L1051.85,1162.45 L1053.85,1162.98 L1055.85,1163.51 L1057.85,1164.05 L1059.85,1164.58 L1061.85,1165.12 L1063.85,1165.66 L1065.85,1166.2 L1067.85,1166.74 L1069.85,1167.28 L1071.85,1167.83 L1073.85,1168.37 L1075.85,1168.92 L1077.85,1169.46 L1079.85,1170.01 L1081.85,1170.56 L1083.85,1171.11 L1085.85,1171.66 L1087.85,1172.21 L1089.85,1172.77 L1091.85,1173.32 L1093.85,1173.88 L1095.85,1174.43 L1097.85,1174.99 L1099.85,1175.55 L1101.85,1176.11 L1103.85,1176.67 L1105.85,1177.23 L1107.85,1177.79 L1109.85,1178.36 L1111.85,1178.92 L1113.85,1179.49 L1115.85,1180.06 L1117.85,1180.63 L1119.85,1181.2 L1121.85,1181.77 L1123.85,1182.35 L1125.85,1182.93 L1127.85,1183.51 L1129.85,1184.09 L1131.85,1184.67 L1133.85,1185.26 L1135.85,1185.85 L1137.85,1186.44 L1139.85,1187.03 L1141.85,1187.63 L1143.85,1188.23 L1145.85,1188.83 L1147.85,1189.43 L1149.85,1190.04 L1151.85,1190.65 L1153.85,1191.27 L1155.85,1191.89 L1157.85,1192.51 L1159.85,1193.13 L1161.85,1193.76 L1163.85,1194.39 L1165.85,1195.03 L1167.85,1195.67 L1169.85,1196.31 L1171.85,1196.96 L1173.85,1197.61 L1175.85,1198.27 L1177.85,1198.93 L1179.85,1199.59 L1181.85,1200.26 L1183.85,1200.93 L1185.85,1201.61 L1187.85,1202.29 L1189.85,1202.98 L1191.85,1203.67 L1193.85,1204.37 L1195.85,1205.08 L1197.85,1205.78 L1199.85,1206.5 L1201.85,1207.22 L1203.85,1207.94 L1205.85,1208.67 L1207.85,1209.4 L1209.85,1210.14 L1211.85,1210.89 L1213.85,1211.64 L1215.85,1212.4 L1217.85,1213.17 L1219.85,1213.94 L1221.85,1214.71 L1223.85,1215.5 L1225.85,1216.29 L1227.85,1217.08 L1229.85,1217.89 L1231.85,1218.69 L1233.85,1219.5 L1235.85,1220.32 L1237.85,1221.13 L1239.85,1221.95 L1241.85,1222.77 L1243.85,1223.59 L1245.85,1224.41 L1247.85,1225.22 L1249.85,1226.03 L1251.85,1226.84 L1253.85,1227.65 L1255.85,1228.45 L1257.85,1229.24 L1259.85,1230.03 L1261.85,1230.8 L1263.85,1231.57 L1265.85,1232.33 L1267.85,1233.08 L1269.85,1233.82 L1271.85,1234.54 L1273.85,1235.25 L1275.5,1235.83" fill="none" stroke="#2ca02c" stroke-width="4.4" stroke-linejoin="round" stroke-dasharray="28.16 7.04 4.4 7.04" stroke-linecap="butt" clip-path="url(#c7)"/>
<path d="M133.85,1260.2v-15 M133.85,956.1v15 M362.18,1260.2v-15 M362.18,956.1v15 M590.51,1260.2v-15 M590.51,956.1v15 M818.84,1260.2v-15 M818.84,956.1v15 M1047.17,1260.2v-15 M1047.17,956.1v15 M1275.5,1260.2v-15 M1275.5,956.1v15 M248.02,1260.2v-7.5 M248.02,956.1v7.5 M476.35,1260.2v-7.5 M476.35,956.1v7.5 M704.68,1260.2v-7.5 M704.68,956.1v7.5 M933,1260.2v-7.5 M933,956.1v7.5 M1161.34,1260.2v-7.5 M1161.34,956.1v7.5 M133.85,1238.48h15 M1275.5,1238.48h-15 M133.85,1151.59h15 M1275.5,1151.59h-15 M133.85,1064.71h15 M1275.5,1064.71h-15 M133.85,977.82h15 M1275.5,977.82h-15 M133.85,1195.04h7.5 M1275.5,1195.04h-7.5 M133.85,1108.15h7.5 M1275.5,1108.15h-7.5 M133.85,1021.26h7.5 M1275.5,1021.26h-7.5" stroke="#000" stroke-width="3" fill="none"/>
<rect x="133.85" y="956.1" width="1141.65" height="304.1" fill="none" stroke="#000" stroke-width="4" stroke-linejoin="miter"/>
<text x="119.75" y="1252.88" font-size="42.5" text-anchor="end">0.0</text>
<text x="119.75" y="1165.99" font-size="42.5" text-anchor="end">0.2</text>
<text x="119.75" y="1079.11" font-size="42.5" text-anchor="end">0.4</text>
<text x="119.75" y="992.22" font-size="42.5" text-anchor="end">0.6</text>
<text x="133.85" y="1303.7" font-size="42.5" text-anchor="middle">0.0</text>
<text x="362.18" y="1303.7" font-size="42.5" text-anchor="middle">0.1</text>
<text x="590.51" y="1303.7" font-size="42.5" text-anchor="middle">0.2</text>
<text x="818.84" y="1303.7" font-size="42.5" text-anchor="middle">0.3</text>
<text x="1047.17" y="1303.7" font-size="42.5" text-anchor="middle">0.4</text>
<text x="1275.5" y="1303.7" font-size="42.5" text-anchor="middle">0.5</text>
<text transform="translate(652.26,1352.8) scale(1.0338,1)" font-size="58" stroke="#000" stroke-width="1.2" stroke-linejoin="round">&#934;</text>
<text transform="translate(696.81,1360.1) scale(1.0910,1)" font-size="40.6" font-style="italic" stroke="#000" stroke-width="1.2" stroke-linejoin="round">i</text>
<text transform="translate(711.07,1352.8) scale(1.0177,1)" font-size="58" stroke="#000" stroke-width="1.2" stroke-linejoin="round">/</text>
<text transform="translate(729.07,1352.8) scale(0.9642,1)" font-size="58" font-style="italic" stroke="#000" stroke-width="1.2" stroke-linejoin="round">&#960;</text>
<g transform="translate(54.7,1167.6) rotate(-90)"><text transform="translate(-1.01,0) scale(0.9452,1)" font-size="58" font-style="italic" stroke="#000" stroke-width="1.2" stroke-linejoin="round">&#948;</text><text transform="translate(26.39,0) scale(1.0287,1)" font-size="58" stroke="#000" stroke-width="1.2" stroke-linejoin="round">&#934;</text><text transform="translate(71.2,0) scale(0.9805,1)" font-size="58" stroke="#000" stroke-width="1.2" stroke-linejoin="round">/</text><text transform="translate(87.89,0) scale(0.9975,1)" font-size="58" font-style="italic" stroke="#000" stroke-width="1.2" stroke-linejoin="round">&#960;</text></g>
<text x="8.5" y="981" font-family="Liberation Sans, sans-serif" font-weight="bold" font-size="54" stroke="#000" stroke-width="0.7">d</text>
<path d="M1105,1007.3 L1154.5,1007.3" fill="none" stroke="#1f77b4" stroke-width="4.4" stroke-linejoin="round" stroke-linecap="butt"/>
<path d="M1107.1,1052.6 L1147.1,1052.6" fill="none" stroke="#d62728" stroke-width="4.4" stroke-linejoin="round" stroke-dasharray="16.28 7.04" stroke-linecap="butt"/>
<path d="M1107.1,1098.5 L1147,1098.5" fill="none" stroke="#2ca02c" stroke-width="4.4" stroke-linejoin="round" stroke-dasharray="28.16 7.04 4.4 7.04" stroke-linecap="butt"/>
<text x="1159.99" y="1021.2" font-size="41.2" text-anchor="start">(0,5)</text>
<text x="1159.99" y="1067.3" font-size="41.2" text-anchor="start">(3,5)</text>
<text x="1159.99" y="1112.7" font-size="41.2" text-anchor="start">(3,8)</text></svg>
</body></html>
